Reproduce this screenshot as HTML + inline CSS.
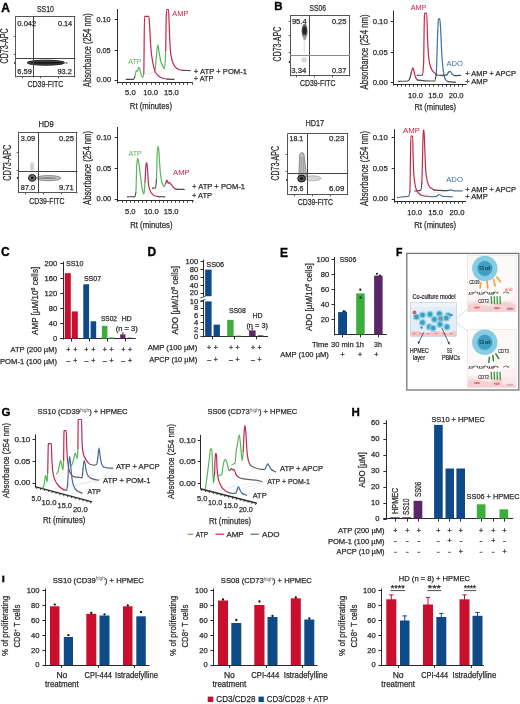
<!DOCTYPE html>
<html><head><meta charset="utf-8"><style>html,body{margin:0;padding:0;background:#fff;}svg{display:block;will-change:transform;filter:blur(0.3px);}text{font-family:"Liberation Sans",sans-serif;}</style></head><body>
<svg width="520" height="704" viewBox="0 0 520 704" font-family="Liberation Sans, sans-serif">
<defs><filter id="bl1" x="-50%" y="-50%" width="200%" height="200%"><feGaussianBlur stdDeviation="0.9"/></filter><filter id="bl2" x="-50%" y="-50%" width="200%" height="200%"><feGaussianBlur stdDeviation="1.6"/></filter><filter id="bl05" x="-50%" y="-50%" width="200%" height="200%"><feGaussianBlur stdDeviation="0.5"/></filter><filter id="bl04" x="-20%" y="-20%" width="140%" height="140%"><feGaussianBlur stdDeviation="0.4"/></filter></defs>
<rect width="520" height="704" fill="#fff"/>
<text x="1.2" y="11.6" font-size="12" font-weight="bold" fill="#000" stroke="#000" stroke-width="0.35">A</text>
<g filter="url(#bl04)">
<ellipse cx="45.9" cy="62.7" rx="18.8" ry="2.5" fill="#4a4a4a" stroke="#1a1a1a" stroke-width="1"/>
<ellipse cx="46.5" cy="62.7" rx="16" ry="1.0" fill="#151515"/>
<ellipse cx="66.5" cy="63" rx="1.2" ry="0.9" fill="#888"/>
</g>
<circle cx="15" cy="63" r="0.9" fill="#111"/>
<line x1="15.50" y1="16.20" x2="15.50" y2="77.40" stroke="#555" stroke-width="1"/>
<line x1="74.50" y1="16.20" x2="74.50" y2="77.40" stroke="#555" stroke-width="1"/>
<line x1="15.60" y1="16.50" x2="75.30" y2="16.50" stroke="#555" stroke-width="1"/>
<line x1="15.60" y1="76.50" x2="75.30" y2="76.50" stroke="#555" stroke-width="1"/>
<line x1="33.50" y1="16.20" x2="33.50" y2="77.40" stroke="#444" stroke-width="1"/>
<line x1="15.60" y1="58.50" x2="75.30" y2="58.50" stroke="#444" stroke-width="1"/>
<line x1="13.70" y1="36.50" x2="15.50" y2="36.50" stroke="#555" stroke-width="1"/>
<line x1="13.70" y1="54.50" x2="15.50" y2="54.50" stroke="#555" stroke-width="1"/>
<line x1="22.50" y1="76.50" x2="22.50" y2="78.30" stroke="#555" stroke-width="1"/>
<line x1="40.50" y1="76.50" x2="40.50" y2="78.30" stroke="#555" stroke-width="1"/>
<line x1="58.50" y1="76.50" x2="58.50" y2="78.30" stroke="#555" stroke-width="1"/>
<text x="17.3" y="25.59" font-size="7.40" fill="#2b2b2b" stroke="#2b2b2b" stroke-width="0.25" font-weight="normal" textLength="19.0" lengthAdjust="spacingAndGlyphs">0.042</text>
<text x="57.9" y="25.59" font-size="7.40" fill="#2b2b2b" stroke="#2b2b2b" stroke-width="0.25" font-weight="normal" textLength="14.2" lengthAdjust="spacingAndGlyphs">0.14</text>
<text x="17.3" y="74.19" font-size="7.40" fill="#2b2b2b" stroke="#2b2b2b" stroke-width="0.25" font-weight="normal" textLength="14.6" lengthAdjust="spacingAndGlyphs">6.59</text>
<text x="57.5" y="74.19" font-size="7.40" fill="#2b2b2b" stroke="#2b2b2b" stroke-width="0.25" font-weight="normal" textLength="14.4" lengthAdjust="spacingAndGlyphs">93.2</text>
<text x="36.9" y="11.59" font-size="9.00" fill="#2b2b2b" stroke="#2b2b2b" stroke-width="0.25" font-weight="normal" textLength="17.1" lengthAdjust="spacingAndGlyphs">SS10</text>
<text x="27.5" y="86.69" font-size="9.50" fill="#2b2b2b" stroke="#2b2b2b" stroke-width="0.25" font-weight="normal" textLength="35.8" lengthAdjust="spacingAndGlyphs">CD39-FITC</text>
<text transform="translate(8.40,63.50) rotate(-90)" x="0" y="0" font-size="10.00" fill="#2b2b2b" stroke="#2b2b2b" stroke-width="0.25" textLength="35.2" lengthAdjust="spacingAndGlyphs">CD73-APC</text>
<line x1="117.50" y1="9.00" x2="117.50" y2="83.60" stroke="#2b2b2b" stroke-width="1"/>
<line x1="117.00" y1="82.50" x2="192.70" y2="82.50" stroke="#2b2b2b" stroke-width="1.2"/>
<line x1="114.70" y1="19.50" x2="117.50" y2="19.50" stroke="#2b2b2b" stroke-width="1"/>
<line x1="114.70" y1="50.50" x2="117.50" y2="50.50" stroke="#2b2b2b" stroke-width="1"/>
<line x1="114.70" y1="80.50" x2="117.50" y2="80.50" stroke="#2b2b2b" stroke-width="1"/>
<line x1="122.50" y1="82.50" x2="122.50" y2="84.70" stroke="#2b2b2b" stroke-width="0.9"/>
<line x1="126.50" y1="82.50" x2="126.50" y2="84.70" stroke="#2b2b2b" stroke-width="0.9"/>
<line x1="130.50" y1="82.50" x2="130.50" y2="84.70" stroke="#2b2b2b" stroke-width="0.9"/>
<line x1="134.50" y1="82.50" x2="134.50" y2="84.70" stroke="#2b2b2b" stroke-width="0.9"/>
<line x1="138.50" y1="82.50" x2="138.50" y2="84.70" stroke="#2b2b2b" stroke-width="0.9"/>
<line x1="142.50" y1="82.50" x2="142.50" y2="84.70" stroke="#2b2b2b" stroke-width="0.9"/>
<line x1="146.50" y1="82.50" x2="146.50" y2="84.70" stroke="#2b2b2b" stroke-width="0.9"/>
<line x1="151.50" y1="82.50" x2="151.50" y2="84.70" stroke="#2b2b2b" stroke-width="0.9"/>
<line x1="155.50" y1="82.50" x2="155.50" y2="84.70" stroke="#2b2b2b" stroke-width="0.9"/>
<line x1="159.50" y1="82.50" x2="159.50" y2="84.70" stroke="#2b2b2b" stroke-width="0.9"/>
<line x1="163.50" y1="82.50" x2="163.50" y2="84.70" stroke="#2b2b2b" stroke-width="0.9"/>
<line x1="167.50" y1="82.50" x2="167.50" y2="84.70" stroke="#2b2b2b" stroke-width="0.9"/>
<line x1="171.50" y1="82.50" x2="171.50" y2="84.70" stroke="#2b2b2b" stroke-width="0.9"/>
<line x1="175.50" y1="82.50" x2="175.50" y2="84.70" stroke="#2b2b2b" stroke-width="0.9"/>
<line x1="179.50" y1="82.50" x2="179.50" y2="84.70" stroke="#2b2b2b" stroke-width="0.9"/>
<line x1="183.50" y1="82.50" x2="183.50" y2="84.70" stroke="#2b2b2b" stroke-width="0.9"/>
<line x1="187.50" y1="82.50" x2="187.50" y2="84.70" stroke="#2b2b2b" stroke-width="0.9"/>
<line x1="192.50" y1="82.50" x2="192.50" y2="84.70" stroke="#2b2b2b" stroke-width="0.9"/>
<text x="96.4" y="21.56" font-size="7.60" fill="#2b2b2b" stroke="#2b2b2b" stroke-width="0.25" font-weight="normal" textLength="14.3" lengthAdjust="spacingAndGlyphs">0.10</text>
<text x="96.4" y="52.76" font-size="7.60" fill="#2b2b2b" stroke="#2b2b2b" stroke-width="0.25" font-weight="normal" textLength="14.3" lengthAdjust="spacingAndGlyphs">0.05</text>
<text x="96.6" y="82.36" font-size="7.60" fill="#2b2b2b" stroke="#2b2b2b" stroke-width="0.25" font-weight="normal" textLength="14.6" lengthAdjust="spacingAndGlyphs">0.00</text>
<text x="125.12" y="94.86" font-size="7.60" fill="#2b2b2b" stroke="#2b2b2b" stroke-width="0.25" font-weight="normal" textLength="10.56" lengthAdjust="spacingAndGlyphs">5.0</text>
<text x="143.30" y="94.86" font-size="7.60" fill="#2b2b2b" stroke="#2b2b2b" stroke-width="0.25" font-weight="normal" textLength="14.79" lengthAdjust="spacingAndGlyphs">10.0</text>
<text x="164.00" y="94.86" font-size="7.60" fill="#2b2b2b" stroke="#2b2b2b" stroke-width="0.25" font-weight="normal" textLength="14.79" lengthAdjust="spacingAndGlyphs">15.0</text>
<text x="129.8" y="108.74" font-size="9.50" fill="#2b2b2b" stroke="#2b2b2b" stroke-width="0.25" font-weight="normal" textLength="42.2" lengthAdjust="spacingAndGlyphs">Rt (minutes)</text>
<text transform="translate(90.50,87.20) rotate(-90)" x="0" y="0" font-size="10.00" fill="#2b2b2b" stroke="#2b2b2b" stroke-width="0.25" textLength="73.9" lengthAdjust="spacingAndGlyphs">Absorbance (254 nm)</text>
<line x1="145.00" y1="74.30" x2="170.00" y2="68.60" stroke="#efd9dd" stroke-width="0.6"/>
<path d="M155.20,69.80 C155.60,65.20 156.00,59.79 156.40,56.00 C156.87,51.58 157.33,44.80 157.80,44.80 C158.27,44.80 158.73,50.13 159.20,52.70 C159.77,55.82 160.33,59.99 160.90,61.80 C161.67,64.25 162.43,65.67 163.20,66.90 C163.63,67.60 164.07,68.60 164.50,68.60 C164.90,68.60 165.30,61.00 165.70,50.50" fill="none" stroke="#58b558" stroke-width="1.2" stroke-linejoin="round" stroke-linecap="round"/>
<path d="M165.70,50.50 C165.88,45.69 166.07,20.23 166.25,16.40 C166.43,12.57 166.62,9.50 166.80,9.50 C167.37,9.50 167.93,9.50 168.50,9.50 C168.70,9.50 168.90,17.46 169.10,22.00 C169.40,28.81 169.70,40.12 170.00,44.80 C170.27,48.96 170.53,52.05 170.80,53.90 C171.37,57.84 171.93,60.18 172.50,61.80 C173.27,63.99 174.03,65.48 174.80,66.40 C175.93,67.76 177.07,68.76 178.20,69.20 C179.70,69.78 181.20,70.19 182.70,70.30" fill="none" stroke="#c4284f" stroke-width="1.2" stroke-linejoin="round" stroke-linecap="round"/>
<path d="M182.70,70.30 C185.17,70.48 187.63,70.50 190.10,70.60" fill="none" stroke="#4a4a4a" stroke-width="1.2" stroke-linejoin="round" stroke-linecap="round"/>
<path d="M126.25,79.40 C128.70,79.40 131.15,79.40 133.60,79.40 C134.00,79.40 134.40,77.81 134.80,76.60" fill="none" stroke="#4a4a4a" stroke-width="1.2" stroke-linejoin="round" stroke-linecap="round"/>
<path d="M134.80,76.60 C135.20,75.39 135.60,72.25 136.00,71.50 C136.27,71.00 136.53,70.50 136.80,70.50 C137.03,70.50 137.27,71.20 137.50,71.20 C137.92,71.20 138.33,67.30 138.75,67.30 C139.13,67.30 139.52,68.48 139.90,69.50 C140.27,70.48 140.63,73.33 141.00,74.30 C141.57,75.80 142.13,77.40 142.70,77.40 C143.07,77.40 143.43,76.07 143.80,73.20" fill="none" stroke="#58b558" stroke-width="1.2" stroke-linejoin="round" stroke-linecap="round"/>
<path d="M143.80,73.20 C144.03,71.38 144.27,16.40 144.50,16.40 C145.97,16.40 147.43,16.40 148.90,16.40 C149.17,16.40 149.43,23.43 149.70,27.70 C149.97,31.97 150.23,38.70 150.50,42.50 C150.87,47.73 151.23,52.06 151.60,55.00 C152.17,59.55 152.73,62.65 153.30,65.20 C153.93,68.05 154.57,70.82 155.20,72.00 C156.33,74.11 157.47,75.11 158.60,76.00 C159.73,76.89 160.87,77.66 162.00,78.00 C163.90,78.58 165.80,78.95 167.70,79.10" fill="none" stroke="#c4284f" stroke-width="1.2" stroke-linejoin="round" stroke-linecap="round"/>
<path d="M167.70,79.10 C169.80,79.26 171.90,79.30 174.00,79.40" fill="none" stroke="#4a4a4a" stroke-width="1.2" stroke-linejoin="round" stroke-linecap="round"/>
<text x="128.2" y="63.78" font-size="8.00" fill="#58b558" stroke="#58b558" stroke-width="0" font-weight="normal" textLength="13.4" lengthAdjust="spacingAndGlyphs">ATP</text>
<text x="172.3" y="15.98" font-size="8.00" fill="#c4284f" stroke="#c4284f" stroke-width="0" font-weight="normal" textLength="16.1" lengthAdjust="spacingAndGlyphs">AMP</text>
<text x="193.8" y="73.68" font-size="8.00" fill="#2b2b2b" stroke="#2b2b2b" stroke-width="0.25" font-weight="normal" textLength="53.2" lengthAdjust="spacingAndGlyphs">+ ATP + POM-1</text>
<text x="193.8" y="80.98" font-size="8.00" fill="#2b2b2b" stroke="#2b2b2b" stroke-width="0.25" font-weight="normal" textLength="19.7" lengthAdjust="spacingAndGlyphs">+ ATP</text>
<g filter="url(#bl04)">
<ellipse cx="32.3" cy="166.5" rx="1.8" ry="4.5" fill="#e6e6e6" stroke="#c4c4c4" stroke-width="0.5"/>
<ellipse cx="48.5" cy="178.1" rx="12.3" ry="2.6" fill="#c4c4c4" stroke="#6a6a6a" stroke-width="0.7"/>
<ellipse cx="47.5" cy="178.1" rx="9.5" ry="1.0" fill="#8a8a8a"/>
<path d="M30.5,170 L33.5,163.5 M33.5,170 L30.5,163.5" stroke="#bbb" stroke-width="0.7"/>
<ellipse cx="32.2" cy="177.9" rx="3.7" ry="3.4" fill="#777" stroke="#1e1e1e" stroke-width="1"/>
<circle cx="32.2" cy="177.9" r="1.4" fill="#111"/>
</g>
<circle cx="17.8" cy="178" r="0.9" fill="#111"/>
<line x1="18.50" y1="132.30" x2="18.50" y2="193.30" stroke="#555" stroke-width="1"/>
<line x1="76.50" y1="132.30" x2="76.50" y2="193.30" stroke="#555" stroke-width="1"/>
<line x1="18.20" y1="132.50" x2="77.50" y2="132.50" stroke="#555" stroke-width="1"/>
<line x1="18.20" y1="192.50" x2="77.50" y2="192.50" stroke="#555" stroke-width="1"/>
<line x1="38.50" y1="132.30" x2="38.50" y2="193.30" stroke="#444" stroke-width="1"/>
<line x1="18.20" y1="171.50" x2="77.50" y2="171.50" stroke="#444" stroke-width="1"/>
<line x1="16.70" y1="152.50" x2="18.50" y2="152.50" stroke="#555" stroke-width="1"/>
<line x1="16.70" y1="170.50" x2="18.50" y2="170.50" stroke="#555" stroke-width="1"/>
<line x1="25.50" y1="192.50" x2="25.50" y2="194.30" stroke="#555" stroke-width="1"/>
<line x1="43.50" y1="192.50" x2="43.50" y2="194.30" stroke="#555" stroke-width="1"/>
<line x1="61.50" y1="192.50" x2="61.50" y2="194.30" stroke="#555" stroke-width="1"/>
<text x="20.8" y="140.79" font-size="7.40" fill="#2b2b2b" stroke="#2b2b2b" stroke-width="0.25" font-weight="normal" textLength="14.3" lengthAdjust="spacingAndGlyphs">3.09</text>
<text x="59.0" y="140.79" font-size="7.40" fill="#2b2b2b" stroke="#2b2b2b" stroke-width="0.25" font-weight="normal" textLength="15.0" lengthAdjust="spacingAndGlyphs">0.25</text>
<text x="20.8" y="190.49" font-size="7.40" fill="#2b2b2b" stroke="#2b2b2b" stroke-width="0.25" font-weight="normal" textLength="14.3" lengthAdjust="spacingAndGlyphs">87.0</text>
<text x="59.0" y="190.49" font-size="7.40" fill="#2b2b2b" stroke="#2b2b2b" stroke-width="0.25" font-weight="normal" textLength="14.8" lengthAdjust="spacingAndGlyphs">9.71</text>
<text x="38.5" y="126.59" font-size="9.00" fill="#2b2b2b" stroke="#2b2b2b" stroke-width="0.25" font-weight="normal" textLength="15.3" lengthAdjust="spacingAndGlyphs">HD9</text>
<text x="29.2" y="204.14" font-size="9.50" fill="#2b2b2b" stroke="#2b2b2b" stroke-width="0.25" font-weight="normal" textLength="35.4" lengthAdjust="spacingAndGlyphs">CD39-FITC</text>
<text transform="translate(11.10,180.80) rotate(-90)" x="0" y="0" font-size="10.00" fill="#2b2b2b" stroke="#2b2b2b" stroke-width="0.25" textLength="36.2" lengthAdjust="spacingAndGlyphs">CD73-APC</text>
<line x1="117.50" y1="127.00" x2="117.50" y2="201.90" stroke="#2b2b2b" stroke-width="1"/>
<line x1="117.00" y1="200.50" x2="193.70" y2="200.50" stroke="#2b2b2b" stroke-width="1.2"/>
<line x1="114.70" y1="137.50" x2="117.50" y2="137.50" stroke="#2b2b2b" stroke-width="1"/>
<line x1="114.70" y1="168.50" x2="117.50" y2="168.50" stroke="#2b2b2b" stroke-width="1"/>
<line x1="114.70" y1="199.50" x2="117.50" y2="199.50" stroke="#2b2b2b" stroke-width="1"/>
<line x1="122.50" y1="200.50" x2="122.50" y2="202.70" stroke="#2b2b2b" stroke-width="0.9"/>
<line x1="126.50" y1="200.50" x2="126.50" y2="202.70" stroke="#2b2b2b" stroke-width="0.9"/>
<line x1="130.50" y1="200.50" x2="130.50" y2="202.70" stroke="#2b2b2b" stroke-width="0.9"/>
<line x1="134.50" y1="200.50" x2="134.50" y2="202.70" stroke="#2b2b2b" stroke-width="0.9"/>
<line x1="138.50" y1="200.50" x2="138.50" y2="202.70" stroke="#2b2b2b" stroke-width="0.9"/>
<line x1="142.50" y1="200.50" x2="142.50" y2="202.70" stroke="#2b2b2b" stroke-width="0.9"/>
<line x1="146.50" y1="200.50" x2="146.50" y2="202.70" stroke="#2b2b2b" stroke-width="0.9"/>
<line x1="151.50" y1="200.50" x2="151.50" y2="202.70" stroke="#2b2b2b" stroke-width="0.9"/>
<line x1="155.50" y1="200.50" x2="155.50" y2="202.70" stroke="#2b2b2b" stroke-width="0.9"/>
<line x1="159.50" y1="200.50" x2="159.50" y2="202.70" stroke="#2b2b2b" stroke-width="0.9"/>
<line x1="163.50" y1="200.50" x2="163.50" y2="202.70" stroke="#2b2b2b" stroke-width="0.9"/>
<line x1="167.50" y1="200.50" x2="167.50" y2="202.70" stroke="#2b2b2b" stroke-width="0.9"/>
<line x1="171.50" y1="200.50" x2="171.50" y2="202.70" stroke="#2b2b2b" stroke-width="0.9"/>
<line x1="175.50" y1="200.50" x2="175.50" y2="202.70" stroke="#2b2b2b" stroke-width="0.9"/>
<line x1="179.50" y1="200.50" x2="179.50" y2="202.70" stroke="#2b2b2b" stroke-width="0.9"/>
<line x1="183.50" y1="200.50" x2="183.50" y2="202.70" stroke="#2b2b2b" stroke-width="0.9"/>
<line x1="187.50" y1="200.50" x2="187.50" y2="202.70" stroke="#2b2b2b" stroke-width="0.9"/>
<line x1="192.50" y1="200.50" x2="192.50" y2="202.70" stroke="#2b2b2b" stroke-width="0.9"/>
<text x="96.6" y="139.96" font-size="7.60" fill="#2b2b2b" stroke="#2b2b2b" stroke-width="0.25" font-weight="normal" textLength="14.7" lengthAdjust="spacingAndGlyphs">0.10</text>
<text x="96.6" y="170.96" font-size="7.60" fill="#2b2b2b" stroke="#2b2b2b" stroke-width="0.25" font-weight="normal" textLength="14.7" lengthAdjust="spacingAndGlyphs">0.05</text>
<text x="96.6" y="201.36" font-size="7.60" fill="#2b2b2b" stroke="#2b2b2b" stroke-width="0.25" font-weight="normal" textLength="14.7" lengthAdjust="spacingAndGlyphs">0.00</text>
<text x="124.92" y="214.36" font-size="7.60" fill="#2b2b2b" stroke="#2b2b2b" stroke-width="0.25" font-weight="normal" textLength="10.56" lengthAdjust="spacingAndGlyphs">5.0</text>
<text x="143.90" y="214.36" font-size="7.60" fill="#2b2b2b" stroke="#2b2b2b" stroke-width="0.25" font-weight="normal" textLength="14.79" lengthAdjust="spacingAndGlyphs">10.0</text>
<text x="163.80" y="214.36" font-size="7.60" fill="#2b2b2b" stroke="#2b2b2b" stroke-width="0.25" font-weight="normal" textLength="14.79" lengthAdjust="spacingAndGlyphs">15.0</text>
<text x="130.2" y="227.54" font-size="9.50" fill="#2b2b2b" stroke="#2b2b2b" stroke-width="0.25" font-weight="normal" textLength="42.3" lengthAdjust="spacingAndGlyphs">Rt (minutes)</text>
<text transform="translate(90.70,205.00) rotate(-90)" x="0" y="0" font-size="10.00" fill="#2b2b2b" stroke="#2b2b2b" stroke-width="0.25" textLength="74.1" lengthAdjust="spacingAndGlyphs">Absorbance (254 nm)</text>
<line x1="146.00" y1="194.50" x2="176.00" y2="189.00" stroke="#efd9dd" stroke-width="0.6"/>
<path d="M152.30,188.20 C153.37,188.13 154.43,188.16 155.50,188.00 C155.83,187.95 156.17,183.85 156.50,178.80" fill="none" stroke="#4a4a4a" stroke-width="1.2" stroke-linejoin="round" stroke-linecap="round"/>
<path d="M156.50,178.80 C156.73,175.27 156.97,157.90 157.20,153.90 C157.42,150.19 157.63,146.50 157.85,146.50 C158.17,146.50 158.48,148.22 158.80,150.20 C159.10,152.07 159.40,159.90 159.70,164.00 C160.00,168.10 160.30,172.81 160.60,175.10 C161.07,178.66 161.53,181.01 162.00,182.50 C162.47,183.99 162.93,185.07 163.40,185.70 C163.70,186.11 164.00,186.60 164.30,186.60 C164.77,186.60 165.23,184.55 165.70,183.40" fill="none" stroke="#58b558" stroke-width="1.2" stroke-linejoin="round" stroke-linecap="round"/>
<path d="M165.70,183.40 C166.10,182.41 166.50,180.20 166.90,180.20 C167.37,180.20 167.83,183.20 168.30,183.20 C168.67,183.20 169.03,182.40 169.40,182.40 C169.70,182.40 170.00,183.23 170.30,183.60 C170.93,184.37 171.57,184.95 172.20,185.70 C172.80,186.41 173.40,187.52 174.00,188.00 C174.63,188.51 175.27,189.05 175.90,189.10" fill="none" stroke="#c4284f" stroke-width="1.2" stroke-linejoin="round" stroke-linecap="round"/>
<path d="M175.90,189.10 C178.67,189.33 181.43,189.30 184.20,189.40" fill="none" stroke="#4a4a4a" stroke-width="1.2" stroke-linejoin="round" stroke-linecap="round"/>
<path d="M127.40,196.80 C129.87,196.73 132.33,196.78 134.80,196.60 C135.17,196.57 135.53,194.76 135.90,192.00" fill="none" stroke="#4a4a4a" stroke-width="1.2" stroke-linejoin="round" stroke-linecap="round"/>
<path d="M135.90,192.00 C136.20,189.74 136.50,168.74 136.80,164.80 C137.07,161.30 137.33,158.00 137.60,158.00 C137.98,158.00 138.37,160.55 138.75,162.50 C139.33,165.46 139.92,171.59 140.50,176.00 C141.07,180.28 141.63,185.98 142.20,188.60 C142.77,191.22 143.33,194.30 143.90,194.30 C144.27,194.30 144.63,186.67 145.00,181.80" fill="none" stroke="#58b558" stroke-width="1.2" stroke-linejoin="round" stroke-linecap="round"/>
<path d="M145.00,181.80 C145.37,176.93 145.73,165.67 146.10,164.20 C146.33,163.27 146.57,162.50 146.80,162.50 C147.07,162.50 147.33,167.35 147.60,170.50 C147.93,174.44 148.27,183.29 148.60,185.20 C149.30,189.22 150.00,190.86 150.70,192.00 C151.83,193.85 152.97,195.04 154.10,195.50 C155.60,196.11 157.10,196.51 158.60,196.60" fill="none" stroke="#c4284f" stroke-width="1.2" stroke-linejoin="round" stroke-linecap="round"/>
<path d="M158.60,196.60 C160.67,196.72 162.73,196.73 164.80,196.80" fill="none" stroke="#4a4a4a" stroke-width="1.2" stroke-linejoin="round" stroke-linecap="round"/>
<text x="128.5" y="155.68" font-size="8.00" fill="#58b558" stroke="#58b558" stroke-width="0" font-weight="normal" textLength="13.3" lengthAdjust="spacingAndGlyphs">ATP</text>
<text x="173.1" y="174.98" font-size="8.00" fill="#c4284f" stroke="#c4284f" stroke-width="0" font-weight="normal" textLength="16.4" lengthAdjust="spacingAndGlyphs">AMP</text>
<text x="192.0" y="189.48" font-size="8.00" fill="#2b2b2b" stroke="#2b2b2b" stroke-width="0.25" font-weight="normal" textLength="53.0" lengthAdjust="spacingAndGlyphs">+ ATP + POM-1</text>
<text x="192.0" y="198.48" font-size="8.00" fill="#2b2b2b" stroke="#2b2b2b" stroke-width="0.25" font-weight="normal" textLength="20.0" lengthAdjust="spacingAndGlyphs">+ ATP</text>
<text x="274.3" y="9.8" font-size="11.5" font-weight="bold" fill="#000" stroke="#000" stroke-width="0.35">B</text>
<g filter="url(#bl04)">
<ellipse cx="304.4" cy="46" rx="1.0" ry="8" fill="#e8e8e8"/>
<ellipse cx="304.6" cy="31" rx="3.0" ry="7.3" fill="#6a6a6a"/>
<ellipse cx="304.6" cy="30.5" rx="2.1" ry="4.0" fill="#262626"/>
<ellipse cx="304.6" cy="37.5" rx="1.6" ry="2.5" fill="#999"/>
<circle cx="304.1" cy="59.7" r="2.3" fill="#dcdcdc" stroke="#c2c2c2" stroke-width="0.6"/>
</g>
<circle cx="289.6" cy="62" r="0.9" fill="#111"/>
<line x1="290.50" y1="15.20" x2="290.50" y2="76.30" stroke="#555" stroke-width="1"/>
<line x1="349.50" y1="15.20" x2="349.50" y2="76.30" stroke="#555" stroke-width="1"/>
<line x1="290.20" y1="15.50" x2="350.20" y2="15.50" stroke="#555" stroke-width="1"/>
<line x1="290.20" y1="75.50" x2="350.20" y2="75.50" stroke="#555" stroke-width="1"/>
<line x1="309.50" y1="15.20" x2="309.50" y2="76.30" stroke="#444" stroke-width="1"/>
<line x1="290.20" y1="55.50" x2="350.20" y2="55.50" stroke="#8a8a8a" stroke-width="1"/>
<line x1="288.70" y1="21.50" x2="290.50" y2="21.50" stroke="#555" stroke-width="1"/>
<line x1="288.70" y1="35.50" x2="290.50" y2="35.50" stroke="#555" stroke-width="1"/>
<line x1="288.70" y1="52.50" x2="290.50" y2="52.50" stroke="#555" stroke-width="1"/>
<line x1="296.50" y1="75.50" x2="296.50" y2="77.30" stroke="#555" stroke-width="1"/>
<line x1="314.50" y1="75.50" x2="314.50" y2="77.30" stroke="#555" stroke-width="1"/>
<line x1="332.50" y1="75.50" x2="332.50" y2="77.30" stroke="#555" stroke-width="1"/>
<text x="291.9" y="23.89" font-size="7.40" fill="#2b2b2b" stroke="#2b2b2b" stroke-width="0.25" font-weight="normal" textLength="14.8" lengthAdjust="spacingAndGlyphs">95.4</text>
<text x="332.0" y="24.39" font-size="7.40" fill="#2b2b2b" stroke="#2b2b2b" stroke-width="0.25" font-weight="normal" textLength="14.3" lengthAdjust="spacingAndGlyphs">0.25</text>
<text x="291.3" y="72.89" font-size="7.40" fill="#2b2b2b" stroke="#2b2b2b" stroke-width="0.25" font-weight="normal" textLength="15.0" lengthAdjust="spacingAndGlyphs">3.34</text>
<text x="332.0" y="73.29" font-size="7.40" fill="#2b2b2b" stroke="#2b2b2b" stroke-width="0.25" font-weight="normal" textLength="14.3" lengthAdjust="spacingAndGlyphs">0.37</text>
<text x="309.5" y="11.49" font-size="9.00" fill="#2b2b2b" stroke="#2b2b2b" stroke-width="0.25" font-weight="normal" textLength="16.5" lengthAdjust="spacingAndGlyphs">SS06</text>
<text x="300.0" y="85.94" font-size="9.50" fill="#2b2b2b" stroke="#2b2b2b" stroke-width="0.25" font-weight="normal" textLength="35.4" lengthAdjust="spacingAndGlyphs">CD39-FITC</text>
<text transform="translate(281.00,61.40) rotate(-90)" x="0" y="0" font-size="10.00" fill="#2b2b2b" stroke="#2b2b2b" stroke-width="0.25" textLength="34.6" lengthAdjust="spacingAndGlyphs">CD73-APC</text>
<line x1="393.50" y1="10.60" x2="393.50" y2="85.50" stroke="#2b2b2b" stroke-width="1"/>
<line x1="393.00" y1="84.50" x2="466.50" y2="84.50" stroke="#2b2b2b" stroke-width="1.2"/>
<line x1="390.70" y1="21.50" x2="393.50" y2="21.50" stroke="#2b2b2b" stroke-width="1"/>
<line x1="390.70" y1="52.50" x2="393.50" y2="52.50" stroke="#2b2b2b" stroke-width="1"/>
<line x1="390.70" y1="82.50" x2="393.50" y2="82.50" stroke="#2b2b2b" stroke-width="1"/>
<line x1="397.50" y1="84.50" x2="397.50" y2="86.70" stroke="#2b2b2b" stroke-width="0.9"/>
<line x1="401.50" y1="84.50" x2="401.50" y2="86.70" stroke="#2b2b2b" stroke-width="0.9"/>
<line x1="405.50" y1="84.50" x2="405.50" y2="86.70" stroke="#2b2b2b" stroke-width="0.9"/>
<line x1="409.50" y1="84.50" x2="409.50" y2="86.70" stroke="#2b2b2b" stroke-width="0.9"/>
<line x1="413.50" y1="84.50" x2="413.50" y2="86.70" stroke="#2b2b2b" stroke-width="0.9"/>
<line x1="417.50" y1="84.50" x2="417.50" y2="86.70" stroke="#2b2b2b" stroke-width="0.9"/>
<line x1="421.50" y1="84.50" x2="421.50" y2="86.70" stroke="#2b2b2b" stroke-width="0.9"/>
<line x1="425.50" y1="84.50" x2="425.50" y2="86.70" stroke="#2b2b2b" stroke-width="0.9"/>
<line x1="429.50" y1="84.50" x2="429.50" y2="86.70" stroke="#2b2b2b" stroke-width="0.9"/>
<line x1="433.50" y1="84.50" x2="433.50" y2="86.70" stroke="#2b2b2b" stroke-width="0.9"/>
<line x1="438.50" y1="84.50" x2="438.50" y2="86.70" stroke="#2b2b2b" stroke-width="0.9"/>
<line x1="442.50" y1="84.50" x2="442.50" y2="86.70" stroke="#2b2b2b" stroke-width="0.9"/>
<line x1="446.50" y1="84.50" x2="446.50" y2="86.70" stroke="#2b2b2b" stroke-width="0.9"/>
<line x1="450.50" y1="84.50" x2="450.50" y2="86.70" stroke="#2b2b2b" stroke-width="0.9"/>
<line x1="454.50" y1="84.50" x2="454.50" y2="86.70" stroke="#2b2b2b" stroke-width="0.9"/>
<line x1="458.50" y1="84.50" x2="458.50" y2="86.70" stroke="#2b2b2b" stroke-width="0.9"/>
<line x1="462.50" y1="84.50" x2="462.50" y2="86.70" stroke="#2b2b2b" stroke-width="0.9"/>
<text x="372.7" y="23.56" font-size="7.60" fill="#2b2b2b" stroke="#2b2b2b" stroke-width="0.25" font-weight="normal" textLength="15.0" lengthAdjust="spacingAndGlyphs">0.10</text>
<text x="372.7" y="54.66" font-size="7.60" fill="#2b2b2b" stroke="#2b2b2b" stroke-width="0.25" font-weight="normal" textLength="15.0" lengthAdjust="spacingAndGlyphs">0.05</text>
<text x="372.7" y="84.66" font-size="7.60" fill="#2b2b2b" stroke="#2b2b2b" stroke-width="0.25" font-weight="normal" textLength="15.0" lengthAdjust="spacingAndGlyphs">0.00</text>
<text x="408.10" y="97.76" font-size="7.60" fill="#2b2b2b" stroke="#2b2b2b" stroke-width="0.25" font-weight="normal" textLength="14.79" lengthAdjust="spacingAndGlyphs">10.0</text>
<text x="428.30" y="97.76" font-size="7.60" fill="#2b2b2b" stroke="#2b2b2b" stroke-width="0.25" font-weight="normal" textLength="14.79" lengthAdjust="spacingAndGlyphs">15.0</text>
<text x="448.70" y="97.76" font-size="7.60" fill="#2b2b2b" stroke="#2b2b2b" stroke-width="0.25" font-weight="normal" textLength="14.79" lengthAdjust="spacingAndGlyphs">20.0</text>
<text x="414.6" y="109.74" font-size="9.50" fill="#2b2b2b" stroke="#2b2b2b" stroke-width="0.25" font-weight="normal" textLength="41.5" lengthAdjust="spacingAndGlyphs">Rt (minutes)</text>
<text transform="translate(367.50,89.40) rotate(-90)" x="0" y="0" font-size="10.00" fill="#2b2b2b" stroke="#2b2b2b" stroke-width="0.25" textLength="75.0" lengthAdjust="spacingAndGlyphs">Absorbance (254 nm)</text>
<line x1="418.00" y1="80.50" x2="450.00" y2="75.50" stroke="#e4e6ee" stroke-width="0.6"/>
<path d="M417.10,75.30 C418.93,75.20 420.77,75.26 422.60,75.00" fill="none" stroke="#4a4a4a" stroke-width="1.2" stroke-linejoin="round" stroke-linecap="round"/>
<path d="M422.60,75.00 C422.93,74.95 423.27,69.96 423.60,63.30 C423.87,57.97 424.13,21.41 424.40,16.70 C424.50,14.93 424.60,13.20 424.70,13.20 C425.37,13.20 426.03,13.20 426.70,13.20 C427.00,13.20 427.30,33.79 427.60,40.00 C428.00,48.28 428.40,55.57 428.80,58.60 C429.37,62.90 429.93,65.21 430.50,66.80 C431.30,69.05 432.10,70.46 432.90,71.40 C433.60,72.22 434.30,72.55 435.00,73.20 C435.60,73.75 436.20,74.92 436.80,75.00" fill="none" stroke="#c4284f" stroke-width="1.2" stroke-linejoin="round" stroke-linecap="round"/>
<path d="M436.80,75.00 C438.33,75.22 439.87,75.30 441.40,75.30 C443.27,75.30 445.13,75.18 447.00,74.80 C447.58,74.68 448.17,72.23 448.75,71.90" fill="none" stroke="#4a4a4a" stroke-width="1.2" stroke-linejoin="round" stroke-linecap="round"/>
<path d="M448.75,71.90 C449.23,71.63 449.72,71.40 450.20,71.40 C450.87,71.40 451.53,73.67 452.20,74.20 C453.13,74.94 454.07,75.70 455.00,75.70" fill="none" stroke="#3f6fa3" stroke-width="1.2" stroke-linejoin="round" stroke-linecap="round"/>
<path d="M455.00,75.70 C456.90,75.70 458.80,75.43 460.70,75.30" fill="none" stroke="#4a4a4a" stroke-width="1.2" stroke-linejoin="round" stroke-linecap="round"/>
<path d="M398.30,81.30 C401.47,81.20 404.63,81.25 407.80,81.00 C408.40,80.95 409.00,80.03 409.60,79.00 C410.17,78.02 410.73,74.53 411.30,72.60" fill="none" stroke="#4a4a4a" stroke-width="1.2" stroke-linejoin="round" stroke-linecap="round"/>
<path d="M411.30,72.60 C411.80,70.89 412.30,67.90 412.80,67.90 C413.27,67.90 413.73,70.45 414.20,72.00 C414.70,73.66 415.20,76.86 415.70,77.80 C416.37,79.05 417.03,80.08 417.70,80.20" fill="none" stroke="#c4284f" stroke-width="1.2" stroke-linejoin="round" stroke-linecap="round"/>
<path d="M417.70,80.20 C420.23,80.65 422.77,80.71 425.30,80.80 C428.37,80.91 431.43,81.00 434.50,81.00 C435.08,81.00 435.67,77.99 436.25,73.60" fill="none" stroke="#4a4a4a" stroke-width="1.2" stroke-linejoin="round" stroke-linecap="round"/>
<path d="M436.25,73.60 C436.73,69.96 437.22,42.71 437.70,32.70 C437.97,27.17 438.23,19.38 438.50,19.10 C438.90,18.69 439.30,18.50 439.70,18.50 C439.97,18.50 440.23,23.38 440.50,27.00 C440.97,33.33 441.43,48.97 441.90,55.50 C442.40,62.50 442.90,68.36 443.40,71.40 C444.03,75.25 444.67,78.41 445.30,79.30 C446.27,80.65 447.23,81.44 448.20,81.60" fill="none" stroke="#3f6fa3" stroke-width="1.2" stroke-linejoin="round" stroke-linecap="round"/>
<path d="M448.20,81.60 C450.67,82.01 453.13,82.00 455.60,82.20" fill="none" stroke="#4a4a4a" stroke-width="1.2" stroke-linejoin="round" stroke-linecap="round"/>
<text x="410.7" y="10.08" font-size="8.00" fill="#c4284f" stroke="#c4284f" stroke-width="0" font-weight="normal" textLength="15.8" lengthAdjust="spacingAndGlyphs">AMP</text>
<text x="446.5" y="65.88" font-size="8.00" fill="#3f6fa3" stroke="#3f6fa3" stroke-width="0" font-weight="normal" textLength="16.5" lengthAdjust="spacingAndGlyphs">ADO</text>
<text x="465.2" y="76.48" font-size="8.00" fill="#2b2b2b" stroke="#2b2b2b" stroke-width="0.25" font-weight="normal" textLength="50.8" lengthAdjust="spacingAndGlyphs">+ AMP + APCP</text>
<text x="465.2" y="84.18" font-size="8.00" fill="#2b2b2b" stroke="#2b2b2b" stroke-width="0.25" font-weight="normal" textLength="22.5" lengthAdjust="spacingAndGlyphs">+ AMP</text>
<g filter="url(#bl04)">
<path d="M298.8,177 L299.6,155 Q301.5,150.5 304,154 L306.6,177 Z" fill="#bdbdbd" stroke="#707070" stroke-width="0.7"/>
<path d="M300.8,176 L301.3,157 M303.4,176 L303.3,157" stroke="#888" stroke-width="0.6"/>
<ellipse cx="313" cy="178.3" rx="8" ry="2.5" fill="#d6d6d6" stroke="#999" stroke-width="0.6"/>
<ellipse cx="301.6" cy="178.6" rx="3.9" ry="3.5" fill="#555" stroke="#1a1a1a" stroke-width="1"/>
<circle cx="301.6" cy="178.6" r="1.4" fill="#111"/>
</g>
<circle cx="287.0" cy="179.9" r="1" fill="#111"/>
<line x1="287.50" y1="133.50" x2="287.50" y2="195.00" stroke="#555" stroke-width="1"/>
<line x1="347.50" y1="133.50" x2="347.50" y2="195.00" stroke="#555" stroke-width="1"/>
<line x1="287.70" y1="133.50" x2="348.10" y2="133.50" stroke="#555" stroke-width="1"/>
<line x1="287.70" y1="194.50" x2="348.10" y2="194.50" stroke="#555" stroke-width="1"/>
<line x1="307.50" y1="133.50" x2="307.50" y2="195.00" stroke="#444" stroke-width="1"/>
<line x1="287.70" y1="173.50" x2="348.10" y2="173.50" stroke="#444" stroke-width="1"/>
<line x1="285.70" y1="154.50" x2="287.50" y2="154.50" stroke="#555" stroke-width="1"/>
<line x1="285.70" y1="171.50" x2="287.50" y2="171.50" stroke="#555" stroke-width="1"/>
<line x1="294.50" y1="194.50" x2="294.50" y2="196.30" stroke="#555" stroke-width="1"/>
<line x1="312.50" y1="194.50" x2="312.50" y2="196.30" stroke="#555" stroke-width="1"/>
<line x1="330.50" y1="194.50" x2="330.50" y2="196.30" stroke="#555" stroke-width="1"/>
<text x="289.6" y="140.59" font-size="7.40" fill="#2b2b2b" stroke="#2b2b2b" stroke-width="0.25" font-weight="normal" textLength="13.4" lengthAdjust="spacingAndGlyphs">18.1</text>
<text x="329.0" y="140.59" font-size="7.40" fill="#2b2b2b" stroke="#2b2b2b" stroke-width="0.25" font-weight="normal" textLength="15.4" lengthAdjust="spacingAndGlyphs">0.23</text>
<text x="289.6" y="191.49" font-size="7.40" fill="#2b2b2b" stroke="#2b2b2b" stroke-width="0.25" font-weight="normal" textLength="13.9" lengthAdjust="spacingAndGlyphs">75.6</text>
<text x="329.0" y="191.49" font-size="7.40" fill="#2b2b2b" stroke="#2b2b2b" stroke-width="0.25" font-weight="normal" textLength="15.4" lengthAdjust="spacingAndGlyphs">6.09</text>
<text x="305.4" y="126.29" font-size="9.00" fill="#2b2b2b" stroke="#2b2b2b" stroke-width="0.25" font-weight="normal" textLength="18.8" lengthAdjust="spacingAndGlyphs">HD17</text>
<text x="297.7" y="204.64" font-size="9.50" fill="#2b2b2b" stroke="#2b2b2b" stroke-width="0.25" font-weight="normal" textLength="35.2" lengthAdjust="spacingAndGlyphs">CD39-FITC</text>
<text transform="translate(278.60,180.60) rotate(-90)" x="0" y="0" font-size="10.00" fill="#2b2b2b" stroke="#2b2b2b" stroke-width="0.25" textLength="34.6" lengthAdjust="spacingAndGlyphs">CD73-APC</text>
<line x1="394.50" y1="129.20" x2="394.50" y2="202.80" stroke="#2b2b2b" stroke-width="1"/>
<line x1="394.00" y1="201.50" x2="466.00" y2="201.50" stroke="#2b2b2b" stroke-width="1.2"/>
<line x1="391.70" y1="137.50" x2="394.50" y2="137.50" stroke="#2b2b2b" stroke-width="1"/>
<line x1="391.70" y1="168.50" x2="394.50" y2="168.50" stroke="#2b2b2b" stroke-width="1"/>
<line x1="391.70" y1="199.50" x2="394.50" y2="199.50" stroke="#2b2b2b" stroke-width="1"/>
<line x1="397.50" y1="201.50" x2="397.50" y2="203.70" stroke="#2b2b2b" stroke-width="0.9"/>
<line x1="401.50" y1="201.50" x2="401.50" y2="203.70" stroke="#2b2b2b" stroke-width="0.9"/>
<line x1="405.50" y1="201.50" x2="405.50" y2="203.70" stroke="#2b2b2b" stroke-width="0.9"/>
<line x1="409.50" y1="201.50" x2="409.50" y2="203.70" stroke="#2b2b2b" stroke-width="0.9"/>
<line x1="413.50" y1="201.50" x2="413.50" y2="203.70" stroke="#2b2b2b" stroke-width="0.9"/>
<line x1="417.50" y1="201.50" x2="417.50" y2="203.70" stroke="#2b2b2b" stroke-width="0.9"/>
<line x1="421.50" y1="201.50" x2="421.50" y2="203.70" stroke="#2b2b2b" stroke-width="0.9"/>
<line x1="425.50" y1="201.50" x2="425.50" y2="203.70" stroke="#2b2b2b" stroke-width="0.9"/>
<line x1="429.50" y1="201.50" x2="429.50" y2="203.70" stroke="#2b2b2b" stroke-width="0.9"/>
<line x1="433.50" y1="201.50" x2="433.50" y2="203.70" stroke="#2b2b2b" stroke-width="0.9"/>
<line x1="438.50" y1="201.50" x2="438.50" y2="203.70" stroke="#2b2b2b" stroke-width="0.9"/>
<line x1="442.50" y1="201.50" x2="442.50" y2="203.70" stroke="#2b2b2b" stroke-width="0.9"/>
<line x1="446.50" y1="201.50" x2="446.50" y2="203.70" stroke="#2b2b2b" stroke-width="0.9"/>
<line x1="450.50" y1="201.50" x2="450.50" y2="203.70" stroke="#2b2b2b" stroke-width="0.9"/>
<line x1="454.50" y1="201.50" x2="454.50" y2="203.70" stroke="#2b2b2b" stroke-width="0.9"/>
<line x1="458.50" y1="201.50" x2="458.50" y2="203.70" stroke="#2b2b2b" stroke-width="0.9"/>
<line x1="462.50" y1="201.50" x2="462.50" y2="203.70" stroke="#2b2b2b" stroke-width="0.9"/>
<text x="372.7" y="140.26" font-size="7.60" fill="#2b2b2b" stroke="#2b2b2b" stroke-width="0.25" font-weight="normal" textLength="15.0" lengthAdjust="spacingAndGlyphs">0.10</text>
<text x="372.7" y="171.06" font-size="7.60" fill="#2b2b2b" stroke="#2b2b2b" stroke-width="0.25" font-weight="normal" textLength="15.0" lengthAdjust="spacingAndGlyphs">0.05</text>
<text x="372.7" y="201.16" font-size="7.60" fill="#2b2b2b" stroke="#2b2b2b" stroke-width="0.25" font-weight="normal" textLength="15.0" lengthAdjust="spacingAndGlyphs">0.00</text>
<text x="407.20" y="214.66" font-size="7.60" fill="#2b2b2b" stroke="#2b2b2b" stroke-width="0.25" font-weight="normal" textLength="14.79" lengthAdjust="spacingAndGlyphs">10.0</text>
<text x="428.30" y="214.66" font-size="7.60" fill="#2b2b2b" stroke="#2b2b2b" stroke-width="0.25" font-weight="normal" textLength="14.79" lengthAdjust="spacingAndGlyphs">15.0</text>
<text x="449.60" y="214.66" font-size="7.60" fill="#2b2b2b" stroke="#2b2b2b" stroke-width="0.25" font-weight="normal" textLength="14.79" lengthAdjust="spacingAndGlyphs">20.0</text>
<text x="414.3" y="227.75" font-size="9.50" fill="#2b2b2b" stroke="#2b2b2b" stroke-width="0.25" font-weight="normal" textLength="41.8" lengthAdjust="spacingAndGlyphs">Rt (minutes)</text>
<text transform="translate(367.50,206.00) rotate(-90)" x="0" y="0" font-size="10.00" fill="#2b2b2b" stroke="#2b2b2b" stroke-width="0.25" textLength="75.0" lengthAdjust="spacingAndGlyphs">Absorbance (254 nm)</text>
<line x1="418.00" y1="195.50" x2="450.00" y2="190.50" stroke="#efd9dd" stroke-width="0.6"/>
<path d="M414.70,191.00 C416.70,190.80 418.70,190.91 420.70,190.40 C421.07,190.31 421.43,187.38 421.80,183.20" fill="none" stroke="#4a4a4a" stroke-width="1.2" stroke-linejoin="round" stroke-linecap="round"/>
<path d="M421.80,183.20 C422.10,179.78 422.40,160.21 422.70,149.80 C422.90,142.86 423.10,130.10 423.30,130.10 C423.53,130.10 423.77,130.10 424.00,130.10 C424.27,130.10 424.53,143.66 424.80,149.80 C425.13,157.47 425.47,167.73 425.80,171.30 C426.27,176.30 426.73,179.14 427.20,180.90 C428.00,183.92 428.80,185.88 429.60,186.80 C430.60,187.95 431.60,188.34 432.60,189.00 C433.27,189.44 433.93,190.14 434.60,190.20" fill="none" stroke="#c4284f" stroke-width="1.2" stroke-linejoin="round" stroke-linecap="round"/>
<path d="M434.60,190.20 C438.20,190.51 441.80,190.60 445.40,190.60 C446.43,190.60 447.47,190.50 448.50,190.40" fill="none" stroke="#4a4a4a" stroke-width="1.2" stroke-linejoin="round" stroke-linecap="round"/>
<path d="M448.50,190.40 C449.40,190.31 450.30,189.80 451.20,189.80 C451.80,189.80 452.40,190.56 453.00,190.60" fill="none" stroke="#3f6fa3" stroke-width="1.2" stroke-linejoin="round" stroke-linecap="round"/>
<path d="M453.00,190.60 C456.10,190.83 459.20,190.80 462.30,190.90" fill="none" stroke="#56739a" stroke-width="1.2" stroke-linejoin="round" stroke-linecap="round"/>
<path d="M397.40,197.60 C399.77,197.27 402.13,196.78 404.50,196.60 C405.70,196.51 406.90,196.55 408.10,196.40 C408.70,196.33 409.30,195.21 409.90,191.60" fill="none" stroke="#56739a" stroke-width="1.2" stroke-linejoin="round" stroke-linecap="round"/>
<path d="M409.90,191.60 C410.10,190.40 410.30,166.52 410.50,155.80 C410.63,148.65 410.77,136.10 410.90,136.10 C411.50,136.10 412.10,136.10 412.70,136.10 C412.83,136.10 412.97,151.57 413.10,155.80 C413.43,166.37 413.77,173.76 414.10,177.30 C414.57,182.26 415.03,185.06 415.50,186.80 C416.23,189.54 416.97,191.25 417.70,192.20 C418.90,193.75 420.10,194.79 421.30,195.20 C423.27,195.88 425.23,196.31 427.20,196.40" fill="none" stroke="#c4284f" stroke-width="1.2" stroke-linejoin="round" stroke-linecap="round"/>
<path d="M427.20,196.40 C429.80,196.52 432.40,196.60 435.00,196.60 C435.40,196.60 435.80,196.55 436.20,196.50" fill="none" stroke="#56739a" stroke-width="1.2" stroke-linejoin="round" stroke-linecap="round"/>
<path d="M436.20,196.50 C437.20,196.37 438.20,194.50 439.20,194.50 C440.23,194.50 441.27,195.91 442.30,196.20 C442.80,196.34 443.30,196.46 443.80,196.50" fill="none" stroke="#3f6fa3" stroke-width="1.2" stroke-linejoin="round" stroke-linecap="round"/>
<path d="M443.80,196.50 C446.63,196.70 449.47,196.70 452.30,196.80" fill="none" stroke="#56739a" stroke-width="1.2" stroke-linejoin="round" stroke-linecap="round"/>
<text x="403.1" y="133.28" font-size="8.00" fill="#c4284f" stroke="#c4284f" stroke-width="0" font-weight="normal" textLength="17.0" lengthAdjust="spacingAndGlyphs">AMP</text>
<text x="446.2" y="182.28" font-size="8.00" fill="#3f6fa3" stroke="#3f6fa3" stroke-width="0" font-weight="normal" textLength="16.8" lengthAdjust="spacingAndGlyphs">ADO</text>
<text x="465.2" y="192.48" font-size="8.00" fill="#2b2b2b" stroke="#2b2b2b" stroke-width="0.25" font-weight="normal" textLength="50.8" lengthAdjust="spacingAndGlyphs">+ AMP + APCP</text>
<text x="465.2" y="199.48" font-size="8.00" fill="#2b2b2b" stroke="#2b2b2b" stroke-width="0.25" font-weight="normal" textLength="22.5" lengthAdjust="spacingAndGlyphs">+ AMP</text>
<text x="1.0" y="256.3" font-size="12" font-weight="bold" fill="#000" stroke="#000" stroke-width="0.35">C</text>
<line x1="63.50" y1="261.50" x2="63.50" y2="339.60" stroke="#2b2b2b" stroke-width="1"/>
<line x1="60.20" y1="338.50" x2="135.80" y2="338.50" stroke="#2b2b2b" stroke-width="1.2"/>
<line x1="60.30" y1="338.50" x2="63.50" y2="338.50" stroke="#2b2b2b" stroke-width="1"/>
<text x="53.07" y="341.16" font-size="7.60" fill="#2b2b2b" stroke="#2b2b2b" stroke-width="0.25" textLength="4.23" lengthAdjust="spacingAndGlyphs">0</text>
<line x1="60.30" y1="323.50" x2="63.50" y2="323.50" stroke="#2b2b2b" stroke-width="1"/>
<text x="48.85" y="326.08" font-size="7.60" fill="#2b2b2b" stroke="#2b2b2b" stroke-width="0.25" textLength="8.45" lengthAdjust="spacingAndGlyphs">40</text>
<line x1="60.30" y1="308.50" x2="63.50" y2="308.50" stroke="#2b2b2b" stroke-width="1"/>
<text x="48.85" y="311.00" font-size="7.60" fill="#2b2b2b" stroke="#2b2b2b" stroke-width="0.25" textLength="8.45" lengthAdjust="spacingAndGlyphs">80</text>
<line x1="60.30" y1="293.50" x2="63.50" y2="293.50" stroke="#2b2b2b" stroke-width="1"/>
<text x="44.62" y="295.92" font-size="7.60" fill="#2b2b2b" stroke="#2b2b2b" stroke-width="0.25" textLength="12.68" lengthAdjust="spacingAndGlyphs">120</text>
<line x1="60.30" y1="278.50" x2="63.50" y2="278.50" stroke="#2b2b2b" stroke-width="1"/>
<text x="44.62" y="280.84" font-size="7.60" fill="#2b2b2b" stroke="#2b2b2b" stroke-width="0.25" textLength="12.68" lengthAdjust="spacingAndGlyphs">160</text>
<line x1="60.30" y1="263.50" x2="63.50" y2="263.50" stroke="#2b2b2b" stroke-width="1"/>
<text x="44.62" y="265.76" font-size="7.60" fill="#2b2b2b" stroke="#2b2b2b" stroke-width="0.25" textLength="12.68" lengthAdjust="spacingAndGlyphs">200</text>
<line x1="71.50" y1="338.60" x2="71.50" y2="341.60" stroke="#2b2b2b" stroke-width="1"/>
<line x1="89.50" y1="338.60" x2="89.50" y2="341.60" stroke="#2b2b2b" stroke-width="1"/>
<line x1="107.50" y1="338.60" x2="107.50" y2="341.60" stroke="#2b2b2b" stroke-width="1"/>
<line x1="125.50" y1="338.60" x2="125.50" y2="341.60" stroke="#2b2b2b" stroke-width="1"/>
<rect x="64.8" y="273.2" width="6.0" height="65.4" fill="#c8102e" />
<rect x="71.8" y="311.4" width="6.0" height="27.2" fill="#c8102e" />
<rect x="83.3" y="284.3" width="5.8" height="54.3" fill="#0e4a88" />
<rect x="90.6" y="321.3" width="5.6" height="17.3" fill="#0e4a88" />
<rect x="101.9" y="325.8" width="5.5" height="12.8" fill="#3cae3c" />
<rect x="109.0" y="337.4" width="5.0" height="1.2" fill="#3cae3c" />
<rect x="120.2" y="334.4" width="5.2" height="4.2" fill="#5a2868" />
<rect x="127.8" y="337.6" width="4.0" height="1.0" fill="#5a2868" />
<line x1="121.80" y1="332.80" x2="123.80" y2="332.80" stroke="#5a2868" stroke-width="0.8"/>
<line x1="122.80" y1="332.80" x2="122.80" y2="334.40" stroke="#5a2868" stroke-width="0.8"/>
<text x="66.0" y="266.28" font-size="8.00" fill="#2b2b2b" stroke="#2b2b2b" stroke-width="0.25" font-weight="normal" textLength="17.4" lengthAdjust="spacingAndGlyphs">SS10</text>
<text x="83.9" y="280.68" font-size="8.00" fill="#2b2b2b" stroke="#2b2b2b" stroke-width="0.25" font-weight="normal" textLength="17.3" lengthAdjust="spacingAndGlyphs">SS07</text>
<text x="101.0" y="320.78" font-size="8.00" fill="#2b2b2b" stroke="#2b2b2b" stroke-width="0.25" font-weight="normal" textLength="16.0" lengthAdjust="spacingAndGlyphs">SS02</text>
<text x="121.4" y="320.78" font-size="8.00" fill="#2b2b2b" stroke="#2b2b2b" stroke-width="0.25" font-weight="normal" textLength="10.4" lengthAdjust="spacingAndGlyphs">HD</text>
<text x="115.7" y="330.68" font-size="8.00" fill="#2b2b2b" stroke="#2b2b2b" stroke-width="0.25" font-weight="normal" textLength="22.2" lengthAdjust="spacingAndGlyphs">(n = 3)</text>
<text transform="translate(38.29,334.90) rotate(-90)" x="0" y="0" font-size="9.00" fill="#2b2b2b" stroke="#2b2b2b" stroke-width="0.25" textLength="68.1" lengthAdjust="spacingAndGlyphs">AMP [µM/10<tspan font-size="6" dy="-3">6</tspan><tspan dy="3"> cells]</tspan></text>
<text x="10.5" y="352.18" font-size="8.00" fill="#2b2b2b" stroke="#2b2b2b" stroke-width="0.25" font-weight="normal" textLength="46.5" lengthAdjust="spacingAndGlyphs">ATP (200 µM)</text>
<text x="0.0" y="363.68" font-size="8.00" fill="#2b2b2b" stroke="#2b2b2b" stroke-width="0.25" font-weight="normal" textLength="57.0" lengthAdjust="spacingAndGlyphs">POM-1 (100 µM)</text>
<text x="66.36" y="351.87" font-size="7.00" fill="#2b2b2b" stroke="#2b2b2b" stroke-width="0.25" font-weight="normal" textLength="4.09" lengthAdjust="spacingAndGlyphs">+</text>
<text x="73.16" y="351.87" font-size="7.00" fill="#2b2b2b" stroke="#2b2b2b" stroke-width="0.25" font-weight="normal" textLength="4.09" lengthAdjust="spacingAndGlyphs">+</text>
<text x="66.45" y="363.37" font-size="7.00" fill="#2b2b2b" stroke="#2b2b2b" stroke-width="0.25" font-weight="normal" textLength="3.89" lengthAdjust="spacingAndGlyphs">–</text>
<text x="73.16" y="363.37" font-size="7.00" fill="#2b2b2b" stroke="#2b2b2b" stroke-width="0.25" font-weight="normal" textLength="4.09" lengthAdjust="spacingAndGlyphs">+</text>
<text x="84.36" y="351.87" font-size="7.00" fill="#2b2b2b" stroke="#2b2b2b" stroke-width="0.25" font-weight="normal" textLength="4.09" lengthAdjust="spacingAndGlyphs">+</text>
<text x="91.16" y="351.87" font-size="7.00" fill="#2b2b2b" stroke="#2b2b2b" stroke-width="0.25" font-weight="normal" textLength="4.09" lengthAdjust="spacingAndGlyphs">+</text>
<text x="84.45" y="363.37" font-size="7.00" fill="#2b2b2b" stroke="#2b2b2b" stroke-width="0.25" font-weight="normal" textLength="3.89" lengthAdjust="spacingAndGlyphs">–</text>
<text x="91.16" y="363.37" font-size="7.00" fill="#2b2b2b" stroke="#2b2b2b" stroke-width="0.25" font-weight="normal" textLength="4.09" lengthAdjust="spacingAndGlyphs">+</text>
<text x="102.76" y="351.87" font-size="7.00" fill="#2b2b2b" stroke="#2b2b2b" stroke-width="0.25" font-weight="normal" textLength="4.09" lengthAdjust="spacingAndGlyphs">+</text>
<text x="109.56" y="351.87" font-size="7.00" fill="#2b2b2b" stroke="#2b2b2b" stroke-width="0.25" font-weight="normal" textLength="4.09" lengthAdjust="spacingAndGlyphs">+</text>
<text x="102.85" y="363.37" font-size="7.00" fill="#2b2b2b" stroke="#2b2b2b" stroke-width="0.25" font-weight="normal" textLength="3.89" lengthAdjust="spacingAndGlyphs">–</text>
<text x="109.56" y="363.37" font-size="7.00" fill="#2b2b2b" stroke="#2b2b2b" stroke-width="0.25" font-weight="normal" textLength="4.09" lengthAdjust="spacingAndGlyphs">+</text>
<text x="121.26" y="351.87" font-size="7.00" fill="#2b2b2b" stroke="#2b2b2b" stroke-width="0.25" font-weight="normal" textLength="4.09" lengthAdjust="spacingAndGlyphs">+</text>
<text x="128.06" y="351.87" font-size="7.00" fill="#2b2b2b" stroke="#2b2b2b" stroke-width="0.25" font-weight="normal" textLength="4.09" lengthAdjust="spacingAndGlyphs">+</text>
<text x="121.35" y="363.37" font-size="7.00" fill="#2b2b2b" stroke="#2b2b2b" stroke-width="0.25" font-weight="normal" textLength="3.89" lengthAdjust="spacingAndGlyphs">–</text>
<text x="128.06" y="363.37" font-size="7.00" fill="#2b2b2b" stroke="#2b2b2b" stroke-width="0.25" font-weight="normal" textLength="4.09" lengthAdjust="spacingAndGlyphs">+</text>
<text x="147.6" y="256.0" font-size="12" font-weight="bold" fill="#000" stroke="#000" stroke-width="0.35">D</text>
<line x1="203.50" y1="259.60" x2="203.50" y2="296.70" stroke="#2b2b2b" stroke-width="1"/>
<line x1="203.50" y1="300.00" x2="203.50" y2="337.30" stroke="#2b2b2b" stroke-width="1"/>
<line x1="203.00" y1="336.50" x2="268.00" y2="336.50" stroke="#2b2b2b" stroke-width="1.2"/>
<line x1="200.50" y1="261.50" x2="203.50" y2="261.50" stroke="#2b2b2b" stroke-width="1"/>
<text x="185.52" y="263.66" font-size="7.60" fill="#2b2b2b" stroke="#2b2b2b" stroke-width="0.25" textLength="12.68" lengthAdjust="spacingAndGlyphs">100</text>
<line x1="200.50" y1="269.50" x2="203.50" y2="269.50" stroke="#2b2b2b" stroke-width="1"/>
<text x="189.75" y="271.96" font-size="7.60" fill="#2b2b2b" stroke="#2b2b2b" stroke-width="0.25" textLength="8.45" lengthAdjust="spacingAndGlyphs">80</text>
<line x1="200.50" y1="277.50" x2="203.50" y2="277.50" stroke="#2b2b2b" stroke-width="1"/>
<text x="189.75" y="279.66" font-size="7.60" fill="#2b2b2b" stroke="#2b2b2b" stroke-width="0.25" textLength="8.45" lengthAdjust="spacingAndGlyphs">60</text>
<line x1="200.50" y1="285.50" x2="203.50" y2="285.50" stroke="#2b2b2b" stroke-width="1"/>
<text x="189.75" y="287.76" font-size="7.60" fill="#2b2b2b" stroke="#2b2b2b" stroke-width="0.25" textLength="8.45" lengthAdjust="spacingAndGlyphs">40</text>
<line x1="200.50" y1="293.50" x2="203.50" y2="293.50" stroke="#2b2b2b" stroke-width="1"/>
<text x="189.75" y="295.36" font-size="7.60" fill="#2b2b2b" stroke="#2b2b2b" stroke-width="0.25" textLength="8.45" lengthAdjust="spacingAndGlyphs">20</text>
<line x1="200.50" y1="301.50" x2="203.50" y2="301.50" stroke="#2b2b2b" stroke-width="1"/>
<text x="189.75" y="303.56" font-size="7.60" fill="#2b2b2b" stroke="#2b2b2b" stroke-width="0.25" textLength="8.45" lengthAdjust="spacingAndGlyphs">10</text>
<line x1="200.50" y1="308.50" x2="203.50" y2="308.50" stroke="#2b2b2b" stroke-width="1"/>
<text x="193.97" y="310.46" font-size="7.60" fill="#2b2b2b" stroke="#2b2b2b" stroke-width="0.25" textLength="4.23" lengthAdjust="spacingAndGlyphs">8</text>
<line x1="200.50" y1="315.50" x2="203.50" y2="315.50" stroke="#2b2b2b" stroke-width="1"/>
<text x="193.97" y="317.56" font-size="7.60" fill="#2b2b2b" stroke="#2b2b2b" stroke-width="0.25" textLength="4.23" lengthAdjust="spacingAndGlyphs">6</text>
<line x1="200.50" y1="322.50" x2="203.50" y2="322.50" stroke="#2b2b2b" stroke-width="1"/>
<text x="193.97" y="324.76" font-size="7.60" fill="#2b2b2b" stroke="#2b2b2b" stroke-width="0.25" textLength="4.23" lengthAdjust="spacingAndGlyphs">4</text>
<line x1="200.50" y1="329.50" x2="203.50" y2="329.50" stroke="#2b2b2b" stroke-width="1"/>
<text x="193.97" y="331.96" font-size="7.60" fill="#2b2b2b" stroke="#2b2b2b" stroke-width="0.25" textLength="4.23" lengthAdjust="spacingAndGlyphs">2</text>
<line x1="200.50" y1="336.50" x2="203.50" y2="336.50" stroke="#2b2b2b" stroke-width="1"/>
<text x="193.97" y="338.56" font-size="7.60" fill="#2b2b2b" stroke="#2b2b2b" stroke-width="0.25" textLength="4.23" lengthAdjust="spacingAndGlyphs">0</text>
<line x1="200.30" y1="297.90" x2="205.50" y2="296.40" stroke="#2b2b2b" stroke-width="0.8"/>
<line x1="200.30" y1="301.00" x2="205.50" y2="299.50" stroke="#2b2b2b" stroke-width="0.8"/>
<rect x="205.1" y="269.6" width="6.5" height="26.6" fill="#0e4a88" />
<rect x="205.1" y="301.4" width="6.5" height="34.9" fill="#0e4a88" />
<rect x="213.6" y="324.6" width="6.3" height="11.7" fill="#0e4a88" />
<rect x="227.2" y="319.9" width="6.4" height="16.4" fill="#3cae3c" />
<rect x="235.3" y="335.6" width="5.7" height="0.7" fill="#3cae3c" />
<rect x="249.1" y="330.4" width="6.5" height="5.9" fill="#5a2868" />
<rect x="257.9" y="335.3" width="5.4" height="1.0" fill="#5a2868" />
<line x1="251.30" y1="328.60" x2="253.30" y2="328.60" stroke="#5a2868" stroke-width="0.8"/>
<line x1="252.30" y1="328.60" x2="252.30" y2="330.40" stroke="#5a2868" stroke-width="0.8"/>
<line x1="212.50" y1="336.30" x2="212.50" y2="339.30" stroke="#2b2b2b" stroke-width="1"/>
<line x1="234.50" y1="336.30" x2="234.50" y2="339.30" stroke="#2b2b2b" stroke-width="1"/>
<line x1="256.50" y1="336.30" x2="256.50" y2="339.30" stroke="#2b2b2b" stroke-width="1"/>
<text x="206.3" y="266.68" font-size="8.00" fill="#2b2b2b" stroke="#2b2b2b" stroke-width="0.25" font-weight="normal" textLength="17.9" lengthAdjust="spacingAndGlyphs">SS06</text>
<text x="228.9" y="312.68" font-size="8.00" fill="#2b2b2b" stroke="#2b2b2b" stroke-width="0.25" font-weight="normal" textLength="16.9" lengthAdjust="spacingAndGlyphs">SS08</text>
<text x="252.5" y="318.28" font-size="8.00" fill="#2b2b2b" stroke="#2b2b2b" stroke-width="0.25" font-weight="normal" textLength="10.1" lengthAdjust="spacingAndGlyphs">HD</text>
<text x="246.4" y="327.78" font-size="8.00" fill="#2b2b2b" stroke="#2b2b2b" stroke-width="0.25" font-weight="normal" textLength="21.6" lengthAdjust="spacingAndGlyphs">(n = 3)</text>
<text transform="translate(178.09,334.40) rotate(-90)" x="0" y="0" font-size="9.00" fill="#2b2b2b" stroke="#2b2b2b" stroke-width="0.25" textLength="68.4" lengthAdjust="spacingAndGlyphs">ADO [µM/10<tspan font-size="6" dy="-3">6</tspan><tspan dy="3"> cells]</tspan></text>
<text x="147.7" y="350.38" font-size="8.00" fill="#2b2b2b" stroke="#2b2b2b" stroke-width="0.25" font-weight="normal" textLength="49.6" lengthAdjust="spacingAndGlyphs">AMP (100 µM)</text>
<text x="149.2" y="361.88" font-size="8.00" fill="#2b2b2b" stroke="#2b2b2b" stroke-width="0.25" font-weight="normal" textLength="48.1" lengthAdjust="spacingAndGlyphs">APCP (10 µM)</text>
<text x="207.06" y="350.07" font-size="7.00" fill="#2b2b2b" stroke="#2b2b2b" stroke-width="0.25" font-weight="normal" textLength="4.09" lengthAdjust="spacingAndGlyphs">+</text>
<text x="213.66" y="350.07" font-size="7.00" fill="#2b2b2b" stroke="#2b2b2b" stroke-width="0.25" font-weight="normal" textLength="4.09" lengthAdjust="spacingAndGlyphs">+</text>
<text x="207.15" y="361.57" font-size="7.00" fill="#2b2b2b" stroke="#2b2b2b" stroke-width="0.25" font-weight="normal" textLength="3.89" lengthAdjust="spacingAndGlyphs">–</text>
<text x="213.66" y="361.57" font-size="7.00" fill="#2b2b2b" stroke="#2b2b2b" stroke-width="0.25" font-weight="normal" textLength="4.09" lengthAdjust="spacingAndGlyphs">+</text>
<text x="228.96" y="350.07" font-size="7.00" fill="#2b2b2b" stroke="#2b2b2b" stroke-width="0.25" font-weight="normal" textLength="4.09" lengthAdjust="spacingAndGlyphs">+</text>
<text x="235.56" y="350.07" font-size="7.00" fill="#2b2b2b" stroke="#2b2b2b" stroke-width="0.25" font-weight="normal" textLength="4.09" lengthAdjust="spacingAndGlyphs">+</text>
<text x="229.05" y="361.57" font-size="7.00" fill="#2b2b2b" stroke="#2b2b2b" stroke-width="0.25" font-weight="normal" textLength="3.89" lengthAdjust="spacingAndGlyphs">–</text>
<text x="235.56" y="361.57" font-size="7.00" fill="#2b2b2b" stroke="#2b2b2b" stroke-width="0.25" font-weight="normal" textLength="4.09" lengthAdjust="spacingAndGlyphs">+</text>
<text x="250.96" y="350.07" font-size="7.00" fill="#2b2b2b" stroke="#2b2b2b" stroke-width="0.25" font-weight="normal" textLength="4.09" lengthAdjust="spacingAndGlyphs">+</text>
<text x="257.56" y="350.07" font-size="7.00" fill="#2b2b2b" stroke="#2b2b2b" stroke-width="0.25" font-weight="normal" textLength="4.09" lengthAdjust="spacingAndGlyphs">+</text>
<text x="251.05" y="361.57" font-size="7.00" fill="#2b2b2b" stroke="#2b2b2b" stroke-width="0.25" font-weight="normal" textLength="3.89" lengthAdjust="spacingAndGlyphs">–</text>
<text x="257.56" y="361.57" font-size="7.00" fill="#2b2b2b" stroke="#2b2b2b" stroke-width="0.25" font-weight="normal" textLength="4.09" lengthAdjust="spacingAndGlyphs">+</text>
<text x="280.0" y="256.6" font-size="12" font-weight="bold" fill="#000" stroke="#000" stroke-width="0.35">E</text>
<line x1="334.50" y1="257.00" x2="334.50" y2="335.40" stroke="#2b2b2b" stroke-width="1"/>
<line x1="334.30" y1="334.50" x2="386.90" y2="334.50" stroke="#2b2b2b" stroke-width="1.2"/>
<line x1="331.50" y1="319.50" x2="334.50" y2="319.50" stroke="#2b2b2b" stroke-width="1"/>
<text x="320.75" y="321.98" font-size="7.60" fill="#2b2b2b" stroke="#2b2b2b" stroke-width="0.25" textLength="8.45" lengthAdjust="spacingAndGlyphs">20</text>
<line x1="331.50" y1="304.50" x2="334.50" y2="304.50" stroke="#2b2b2b" stroke-width="1"/>
<text x="320.75" y="307.00" font-size="7.60" fill="#2b2b2b" stroke="#2b2b2b" stroke-width="0.25" textLength="8.45" lengthAdjust="spacingAndGlyphs">40</text>
<line x1="331.50" y1="289.50" x2="334.50" y2="289.50" stroke="#2b2b2b" stroke-width="1"/>
<text x="320.75" y="292.02" font-size="7.60" fill="#2b2b2b" stroke="#2b2b2b" stroke-width="0.25" textLength="8.45" lengthAdjust="spacingAndGlyphs">60</text>
<line x1="331.50" y1="274.50" x2="334.50" y2="274.50" stroke="#2b2b2b" stroke-width="1"/>
<text x="320.75" y="277.04" font-size="7.60" fill="#2b2b2b" stroke="#2b2b2b" stroke-width="0.25" textLength="8.45" lengthAdjust="spacingAndGlyphs">80</text>
<line x1="331.50" y1="259.50" x2="334.50" y2="259.50" stroke="#2b2b2b" stroke-width="1"/>
<text x="316.52" y="262.06" font-size="7.60" fill="#2b2b2b" stroke="#2b2b2b" stroke-width="0.25" textLength="12.68" lengthAdjust="spacingAndGlyphs">100</text>
<rect x="338.1" y="312.1" width="8.9" height="22.3" fill="#0e4a88" />
<rect x="356.2" y="293.4" width="8.5" height="41.0" fill="#3cae3c" />
<rect x="374.1" y="275.6" width="8.5" height="58.8" fill="#5a2868" />
<circle cx="343.5" cy="311.2" r="1" fill="#111"/><circle cx="345" cy="311.5" r="0.9" fill="#111"/>
<circle cx="360.3" cy="289.7" r="1.1" fill="#111"/><circle cx="360.5" cy="297.5" r="1.1" fill="#111"/>
<circle cx="377" cy="273.8" r="1" fill="#111"/><circle cx="380" cy="275.3" r="0.9" fill="#111"/>
<line x1="342.50" y1="334.40" x2="342.50" y2="337.40" stroke="#2b2b2b" stroke-width="1"/>
<line x1="360.50" y1="334.40" x2="360.50" y2="337.40" stroke="#2b2b2b" stroke-width="1"/>
<line x1="378.50" y1="334.40" x2="378.50" y2="337.40" stroke="#2b2b2b" stroke-width="1"/>
<text x="339.4" y="262.18" font-size="8.00" fill="#2b2b2b" stroke="#2b2b2b" stroke-width="0.25" font-weight="normal" textLength="16.9" lengthAdjust="spacingAndGlyphs">SS06</text>
<text transform="translate(311.59,331.00) rotate(-90)" x="0" y="0" font-size="9.00" fill="#2b2b2b" stroke="#2b2b2b" stroke-width="0.25" textLength="67.7" lengthAdjust="spacingAndGlyphs">ADO [µM/10<tspan font-size="6" dy="-3">6</tspan><tspan dy="3"> cells]</tspan></text>
<text x="311.9" y="346.78" font-size="8.00" fill="#2b2b2b" stroke="#2b2b2b" stroke-width="0.25" font-weight="normal" textLength="16.6" lengthAdjust="spacingAndGlyphs">Time</text>
<text x="331.0" y="346.78" font-size="8.00" fill="#2b2b2b" stroke="#2b2b2b" stroke-width="0.25" font-weight="normal" textLength="22.6" lengthAdjust="spacingAndGlyphs">30 min</text>
<text x="355.7" y="346.78" font-size="8.00" fill="#2b2b2b" stroke="#2b2b2b" stroke-width="0.25" font-weight="normal" textLength="8.3" lengthAdjust="spacingAndGlyphs">1h</text>
<text x="374.0" y="346.78" font-size="8.00" fill="#2b2b2b" stroke="#2b2b2b" stroke-width="0.25" font-weight="normal" textLength="7.8" lengthAdjust="spacingAndGlyphs">3h</text>
<text x="280.2" y="357.38" font-size="8.00" fill="#2b2b2b" stroke="#2b2b2b" stroke-width="0.25" font-weight="normal" textLength="48.6" lengthAdjust="spacingAndGlyphs">AMP (100 µM)</text>
<text x="340.56" y="357.07" font-size="7.00" fill="#2b2b2b" stroke="#2b2b2b" stroke-width="0.25" font-weight="normal" textLength="4.09" lengthAdjust="spacingAndGlyphs">+</text>
<text x="358.06" y="357.07" font-size="7.00" fill="#2b2b2b" stroke="#2b2b2b" stroke-width="0.25" font-weight="normal" textLength="4.09" lengthAdjust="spacingAndGlyphs">+</text>
<text x="374.26" y="357.07" font-size="7.00" fill="#2b2b2b" stroke="#2b2b2b" stroke-width="0.25" font-weight="normal" textLength="4.09" lengthAdjust="spacingAndGlyphs">+</text>
<text x="396.0" y="256.3" font-size="10.5" font-weight="bold" fill="#000" stroke="#000" stroke-width="0.35">F</text>
<rect x="406.8" y="253.4" width="112" height="136.6" fill="#ffffff" stroke="#777" stroke-width="1.3"/>
<line x1="456.80" y1="318.00" x2="467.50" y2="309.00" stroke="#b5d0e4" stroke-width="0.7"/>
<line x1="456.80" y1="323.00" x2="467.50" y2="331.00" stroke="#b5d0e4" stroke-width="0.7"/>
<rect x="467.5" y="255.2" width="48.5" height="56.5" fill="#fdf9f9" stroke="#e6dcdc" stroke-width="0.6"/>
<rect x="467.8" y="300.7" width="47.9" height="11" fill="#fae8e8"/>
<path d="M467.8,305.2 Q474,301.7 481,304.7 Q490,308.7 497,303.7 Q506,299.7 515.7,304.7 L515.7,311.7 L467.8,311.7 Z" fill="#f5d0d2"/>
<ellipse cx="477" cy="307.5" rx="3.2" ry="1.1" fill="#e1727f"/>
<ellipse cx="497" cy="308.2" rx="3.2" ry="1.1" fill="#e1727f"/>
<ellipse cx="510" cy="308.7" rx="3.5" ry="1.2" fill="#b98b9a"/>
<circle cx="484.8" cy="268.5" r="12.7" fill="#86cde3"/>
<circle cx="484.8" cy="268.5" r="7.6" fill="#3f9fc2"/>
<text x="484.8" y="270.1" font-size="4.8" fill="#102a40" stroke="#102a40" stroke-width="0.1" text-anchor="middle" textLength="11" lengthAdjust="spacingAndGlyphs">SS cell</text>
<text x="468.5" y="295.0" font-size="3.2" fill="#222">ATP</text>
<text x="478.5" y="295.0" font-size="3.2" fill="#222">ADP</text>
<text x="488.5" y="295.0" font-size="3.2" fill="#222">AMP</text>
<path d="M472.5,293.2 q2.8,-2.8 5.8,-0.2" fill="none" stroke="#222" stroke-width="0.6"/>
<path d="M478.3,293.0 l-1.3,-0.5 l0.4,1.3 z" fill="#222"/>
<path d="M482.5,293.2 q2.8,-2.8 5.8,-0.2" fill="none" stroke="#222" stroke-width="0.6"/>
<path d="M488.3,293.0 l-1.3,-0.5 l0.4,1.3 z" fill="#222"/>
<path d="M492.5,293.2 q2.8,-2.8 5.8,-0.2" fill="none" stroke="#222" stroke-width="0.6"/>
<path d="M498.3,293.0 l-1.3,-0.5 l0.4,1.3 z" fill="#222"/>
<path d="M503,293.2 q2.8,-2.8 5.8,-0.2" fill="none" stroke="#222" stroke-width="0.6"/>
<path d="M508.8,293.0 l-1.3,-0.5 l0.4,1.3 z" fill="#222"/>
<text x="478.3" y="303.09999999999997" font-size="5.2" fill="#222" stroke="#222" stroke-width="0.1" textLength="10.5" lengthAdjust="spacingAndGlyphs">CD73</text>
<line x1="491.3" y1="296.2" x2="491.6" y2="304.2" stroke="#2f9a3a" stroke-width="1.3"/>
<line x1="494.2" y1="296.2" x2="494.5" y2="304.2" stroke="#2f9a3a" stroke-width="1.3"/>
<line x1="497.1" y1="296.2" x2="497.40000000000003" y2="304.2" stroke="#2f9a3a" stroke-width="1.3"/>
<line x1="500.0" y1="296.2" x2="500.3" y2="304.2" stroke="#2f9a3a" stroke-width="1.3"/>
<rect x="467.5" y="329.6" width="48.5" height="57.69999999999999" fill="#fdf9f9" stroke="#e6dcdc" stroke-width="0.6"/>
<rect x="467.8" y="376.3" width="47.9" height="11" fill="#fae8e8"/>
<path d="M467.8,380.8 Q474,377.3 481,380.3 Q490,384.3 497,379.3 Q506,375.3 515.7,380.3 L515.7,387.3 L467.8,387.3 Z" fill="#f5d0d2"/>
<ellipse cx="477" cy="383.1" rx="3.2" ry="1.1" fill="#e1727f"/>
<ellipse cx="497" cy="383.8" rx="3.2" ry="1.1" fill="#e1727f"/>
<ellipse cx="510" cy="384.3" rx="3.5" ry="1.2" fill="#b98b9a"/>
<circle cx="484.8" cy="342.3" r="12.7" fill="#86cde3"/>
<circle cx="484.8" cy="342.3" r="7.6" fill="#3f9fc2"/>
<text x="484.8" y="343.90000000000003" font-size="4.8" fill="#102a40" stroke="#102a40" stroke-width="0.1" text-anchor="middle" textLength="11" lengthAdjust="spacingAndGlyphs">SS cell</text>
<text x="468.5" y="369.1" font-size="3.2" fill="#222">ATP</text>
<text x="478.5" y="369.1" font-size="3.2" fill="#222">ADP</text>
<text x="488.5" y="369.1" font-size="3.2" fill="#222">AMP</text>
<path d="M472.5,367.3 q2.8,-2.8 5.8,-0.2" fill="none" stroke="#222" stroke-width="0.6"/>
<path d="M478.3,367.1 l-1.3,-0.5 l0.4,1.3 z" fill="#222"/>
<path d="M482.5,367.3 q2.8,-2.8 5.8,-0.2" fill="none" stroke="#222" stroke-width="0.6"/>
<path d="M488.3,367.1 l-1.3,-0.5 l0.4,1.3 z" fill="#222"/>
<path d="M492.5,367.3 q2.8,-2.8 5.8,-0.2" fill="none" stroke="#222" stroke-width="0.6"/>
<path d="M498.3,367.1 l-1.3,-0.5 l0.4,1.3 z" fill="#222"/>
<path d="M503,367.3 q2.8,-2.8 5.8,-0.2" fill="none" stroke="#222" stroke-width="0.6"/>
<path d="M508.8,367.1 l-1.3,-0.5 l0.4,1.3 z" fill="#222"/>
<text x="478.3" y="378.7" font-size="5.2" fill="#222" stroke="#222" stroke-width="0.1" textLength="10.5" lengthAdjust="spacingAndGlyphs">CD73</text>
<line x1="491.3" y1="371.8" x2="491.6" y2="379.8" stroke="#2f9a3a" stroke-width="1.3"/>
<line x1="494.2" y1="371.8" x2="494.5" y2="379.8" stroke="#2f9a3a" stroke-width="1.3"/>
<line x1="497.1" y1="371.8" x2="497.40000000000003" y2="379.8" stroke="#2f9a3a" stroke-width="1.3"/>
<line x1="500.0" y1="371.8" x2="500.3" y2="379.8" stroke="#2f9a3a" stroke-width="1.3"/>
<line x1="480.8" y1="282.9" x2="480.2" y2="288" stroke="#f3a33a" stroke-width="1.7" stroke-linecap="round"/>
<line x1="487.1" y1="281.7" x2="487.7" y2="288" stroke="#f3a33a" stroke-width="1.7" stroke-linecap="round"/>
<line x1="493.5" y1="279.4" x2="495.2" y2="285.8" stroke="#f3a33a" stroke-width="1.7" stroke-linecap="round"/>
<line x1="496.9" y1="277.1" x2="500.4" y2="281.7" stroke="#f3a33a" stroke-width="1.7" stroke-linecap="round"/>
<text x="469.2" y="284.4" font-size="5" fill="#222" stroke="#222" stroke-width="0.1" textLength="10.4" lengthAdjust="spacingAndGlyphs">CD39</text>
<text x="505" y="291.3" font-size="3.6" fill="#e06a55">ADO</text>
<path d="M510,287 l1.5,2 l-2,1 l2.4,0.3" fill="none" stroke="#e06a55" stroke-width="0.5"/>
<line x1="489.4" y1="357.3" x2="488.8" y2="362.5" stroke="#2f8a3a" stroke-width="1.5" stroke-linecap="round"/>
<line x1="492.9" y1="355.6" x2="493.5" y2="360.8" stroke="#2f8a3a" stroke-width="1.5" stroke-linecap="round"/>
<line x1="495.8" y1="353.8" x2="498.7" y2="358.5" stroke="#2f8a3a" stroke-width="1.5" stroke-linecap="round"/>
<text x="498" y="353.4" font-size="5.2" fill="#222" stroke="#222" stroke-width="0.1" textLength="11" lengthAdjust="spacingAndGlyphs">CD73</text>
<rect x="502" y="369" width="13.5" height="15.5" fill="#fbeeee" opacity="0.8"/>
<text x="412.5" y="298.7" font-size="6.4" fill="#1a1a1a" stroke="#1a1a1a" stroke-width="0.2" textLength="43" lengthAdjust="spacingAndGlyphs">Co-culture model</text>
<rect x="410.6" y="302.5" width="45.7" height="33.8" fill="#e2edf5" stroke="#b8c9d8" stroke-width="0.6"/>
<rect x="411" y="302.9" width="44.9" height="4" fill="#eef4f9"/>
<path d="M410.9,332 Q416,330 421,332 T431,332 T441,332 T451,332 T456,332 L456,336 L410.9,336 Z" fill="#f4c4c6"/>
<ellipse cx="414" cy="333.6" rx="2.2" ry="0.7" fill="#e58a94"/>
<ellipse cx="421" cy="333.6" rx="2.2" ry="0.7" fill="#e58a94"/>
<ellipse cx="428" cy="333.6" rx="2.2" ry="0.7" fill="#e58a94"/>
<ellipse cx="436" cy="333.6" rx="2.2" ry="0.7" fill="#e58a94"/>
<ellipse cx="444" cy="333.6" rx="2.2" ry="0.7" fill="#e58a94"/>
<ellipse cx="451" cy="333.6" rx="2.2" ry="0.7" fill="#e58a94"/>
<circle cx="422.5" cy="315" r="3.6" fill="#94d2e6"/>
<circle cx="422.5" cy="315" r="2.3" fill="#3e9dc2"/>
<circle cx="430" cy="314.4" r="3.6" fill="#94d2e6"/>
<circle cx="430" cy="314.4" r="2.3" fill="#3e9dc2"/>
<circle cx="439.4" cy="313.75" r="3.6" fill="#94d2e6"/>
<circle cx="439.4" cy="313.75" r="2.3" fill="#3e9dc2"/>
<circle cx="448.1" cy="315.6" r="3.6" fill="#94d2e6"/>
<circle cx="448.1" cy="315.6" r="2.3" fill="#3e9dc2"/>
<circle cx="434.4" cy="319.4" r="3.6" fill="#94d2e6"/>
<circle cx="434.4" cy="319.4" r="2.3" fill="#3e9dc2"/>
<circle cx="422.5" cy="322.5" r="3.6" fill="#94d2e6"/>
<circle cx="422.5" cy="322.5" r="2.3" fill="#3e9dc2"/>
<circle cx="440.6" cy="318.75" r="3.6" fill="#94d2e6"/>
<circle cx="440.6" cy="318.75" r="2.3" fill="#3e9dc2"/>
<circle cx="446.3" cy="318.1" r="3.6" fill="#94d2e6"/>
<circle cx="446.3" cy="318.1" r="2.3" fill="#3e9dc2"/>
<circle cx="429.4" cy="326.9" r="3.6" fill="#94d2e6"/>
<circle cx="429.4" cy="326.9" r="2.3" fill="#3e9dc2"/>
<circle cx="440" cy="324.4" r="3.6" fill="#94d2e6"/>
<circle cx="440" cy="324.4" r="2.3" fill="#3e9dc2"/>
<circle cx="446.9" cy="326.9" r="3.6" fill="#94d2e6"/>
<circle cx="446.9" cy="326.9" r="2.3" fill="#3e9dc2"/>
<circle cx="433.1" cy="328.1" r="3.6" fill="#94d2e6"/>
<circle cx="433.1" cy="328.1" r="2.3" fill="#3e9dc2"/>
<circle cx="416.5" cy="317" r="3.6" fill="#94d2e6"/>
<circle cx="416.5" cy="317" r="2.3" fill="#3e9dc2"/>
<circle cx="414.5" cy="312.5" r="1.9" fill="#c9606a"/>
<circle cx="440.4" cy="319.2" r="1.3" fill="#d97a6a"/>
<circle cx="421.5" cy="327.5" r="1.2" fill="#6e74b8"/>
<circle cx="451.5" cy="315" r="1.2" fill="#6e74b8"/>
<line x1="423.75" y1="332.50" x2="418.60" y2="342.50" stroke="#222" stroke-width="0.7"/>
<path d="M418.1,344.2 L417.9,341.2 L420.0,342.2 Z" fill="#222"/>
<line x1="441.90" y1="328.10" x2="448.90" y2="343.20" stroke="#222" stroke-width="0.7"/>
<path d="M449.5,344.8 L447.4,342.8 L449.6,342 Z" fill="#222"/>
<text x="410" y="352.6" font-size="6.4" fill="#1a1a1a" stroke="#1a1a1a" stroke-width="0.2" textLength="18.7" lengthAdjust="spacingAndGlyphs">HPMEC</text>
<text x="413.1" y="359.5" font-size="6.4" fill="#1a1a1a" stroke="#1a1a1a" stroke-width="0.2" textLength="11.9" lengthAdjust="spacingAndGlyphs">layer</text>
<text x="446.9" y="352.6" font-size="6.4" fill="#1a1a1a" stroke="#1a1a1a" stroke-width="0.2" textLength="5" lengthAdjust="spacingAndGlyphs">SS</text>
<text x="441.9" y="359.5" font-size="6.4" fill="#1a1a1a" stroke="#1a1a1a" stroke-width="0.2" textLength="18.1" lengthAdjust="spacingAndGlyphs">PBMCs</text>
<text x="1.5" y="415.8" font-size="11.5" font-weight="bold" fill="#000" stroke="#000" stroke-width="0.35">G</text>
<text x="37.5" y="414.38" font-size="8.00" fill="#2b2b2b" stroke="#2b2b2b" stroke-width="0.25" font-weight="normal" textLength="90.0" lengthAdjust="spacingAndGlyphs">SS10 (CD39<tspan font-size="5.2" dy="-2.8" stroke-width="0" fill="#555">high</tspan><tspan dy="2.8">) + HPMEC</tspan></text>
<line x1="35.50" y1="434.30" x2="35.50" y2="487.50" stroke="#2b2b2b" stroke-width="1"/>
<line x1="32.50" y1="439.50" x2="35.50" y2="439.50" stroke="#2b2b2b" stroke-width="1"/>
<line x1="32.50" y1="461.50" x2="35.50" y2="461.50" stroke="#2b2b2b" stroke-width="1"/>
<line x1="32.50" y1="483.50" x2="35.50" y2="483.50" stroke="#2b2b2b" stroke-width="1"/>
<text x="14.4" y="441.76" font-size="7.60" fill="#2b2b2b" stroke="#2b2b2b" stroke-width="0.25" font-weight="normal" textLength="16.0" lengthAdjust="spacingAndGlyphs">0.10</text>
<text x="14.4" y="463.56" font-size="7.60" fill="#2b2b2b" stroke="#2b2b2b" stroke-width="0.25" font-weight="normal" textLength="16.0" lengthAdjust="spacingAndGlyphs">0.05</text>
<text x="14.4" y="485.36" font-size="7.60" fill="#2b2b2b" stroke="#2b2b2b" stroke-width="0.25" font-weight="normal" textLength="16.0" lengthAdjust="spacingAndGlyphs">0.00</text>
<text transform="translate(8.74,498.00) rotate(-90)" x="0" y="0" font-size="9.50" fill="#2b2b2b" stroke="#2b2b2b" stroke-width="0.25" textLength="75.0" lengthAdjust="spacingAndGlyphs">Absorbance (254 nm)</text>
<line x1="35.00" y1="486.60" x2="92.10" y2="501.90" stroke="#2b2b2b" stroke-width="1.4"/>
<line x1="37.00" y1="487.10" x2="36.60" y2="488.90" stroke="#2b2b2b" stroke-width="0.9"/>
<line x1="40.86" y1="488.14" x2="40.46" y2="489.94" stroke="#2b2b2b" stroke-width="0.9"/>
<line x1="44.71" y1="489.17" x2="44.31" y2="490.97" stroke="#2b2b2b" stroke-width="0.9"/>
<line x1="48.57" y1="490.21" x2="48.17" y2="492.01" stroke="#2b2b2b" stroke-width="0.9"/>
<line x1="52.43" y1="491.24" x2="52.03" y2="493.04" stroke="#2b2b2b" stroke-width="0.9"/>
<line x1="56.29" y1="492.28" x2="55.89" y2="494.08" stroke="#2b2b2b" stroke-width="0.9"/>
<line x1="60.14" y1="493.31" x2="59.74" y2="495.11" stroke="#2b2b2b" stroke-width="0.9"/>
<line x1="64.00" y1="494.35" x2="63.60" y2="496.15" stroke="#2b2b2b" stroke-width="0.9"/>
<line x1="67.86" y1="495.39" x2="67.46" y2="497.19" stroke="#2b2b2b" stroke-width="0.9"/>
<line x1="71.71" y1="496.42" x2="71.31" y2="498.22" stroke="#2b2b2b" stroke-width="0.9"/>
<line x1="75.57" y1="497.46" x2="75.17" y2="499.26" stroke="#2b2b2b" stroke-width="0.9"/>
<line x1="79.43" y1="498.49" x2="79.03" y2="500.29" stroke="#2b2b2b" stroke-width="0.9"/>
<line x1="83.29" y1="499.53" x2="82.89" y2="501.33" stroke="#2b2b2b" stroke-width="0.9"/>
<line x1="87.14" y1="500.56" x2="86.74" y2="502.36" stroke="#2b2b2b" stroke-width="0.9"/>
<line x1="91.00" y1="501.60" x2="90.60" y2="503.40" stroke="#2b2b2b" stroke-width="0.9"/>
<text x="31.5" y="500.86" font-size="7.60" fill="#2b2b2b" stroke="#2b2b2b" stroke-width="0.25" font-weight="normal" textLength="9.7" lengthAdjust="spacingAndGlyphs">5.0</text>
<text x="41.5" y="505.06" font-size="7.60" fill="#2b2b2b" stroke="#2b2b2b" stroke-width="0.25" font-weight="normal" textLength="15.0" lengthAdjust="spacingAndGlyphs">10.0</text>
<text x="57.5" y="507.96" font-size="7.60" fill="#2b2b2b" stroke="#2b2b2b" stroke-width="0.25" font-weight="normal" textLength="14.5" lengthAdjust="spacingAndGlyphs">15.0</text>
<text x="72.9" y="511.76" font-size="7.60" fill="#2b2b2b" stroke="#2b2b2b" stroke-width="0.25" font-weight="normal" textLength="14.8" lengthAdjust="spacingAndGlyphs">20.0</text>
<text x="43.0" y="522.95" font-size="9.50" fill="#2b2b2b" stroke="#2b2b2b" stroke-width="0.25" font-weight="normal" textLength="42.4" lengthAdjust="spacingAndGlyphs">Rt (minutes)</text>
<line x1="42.85" y1="487.80" x2="70.50" y2="466.00" stroke="#dfe2e8" stroke-width="0.6"/>
<line x1="62.00" y1="490.20" x2="90.00" y2="466.30" stroke="#dfe2e8" stroke-width="0.6"/>
<line x1="82.10" y1="493.20" x2="112.90" y2="468.20" stroke="#dfe2e8" stroke-width="0.6"/>
<line x1="52.00" y1="489.00" x2="98.40" y2="480.20" stroke="#dfe2e8" stroke-width="0.6"/>
<line x1="60.00" y1="489.80" x2="112.90" y2="476.00" stroke="#dfe2e8" stroke-width="0.6"/>
<path d="M70.50,466.00 C71.13,465.33 71.77,465.08 72.40,464.00 C72.90,463.14 73.40,459.83 73.90,457.90 C74.33,456.22 74.77,453.10 75.20,453.10 C75.60,453.10 76.00,455.75 76.40,456.70 C76.70,457.41 77.00,458.50 77.30,458.50 C77.50,458.50 77.70,454.47 77.90,448.20" fill="none" stroke="#58b558" stroke-width="1.2" stroke-linejoin="round" stroke-linecap="round"/>
<path d="M77.90,448.20 C78.00,445.07 78.10,421.14 78.20,420.50 C78.30,419.86 78.40,419.50 78.50,419.50 C79.50,419.50 80.50,419.50 81.50,419.50 C81.70,419.50 81.90,438.11 82.10,442.20 C82.30,446.29 82.50,449.25 82.70,450.60 C83.10,453.29 83.50,454.40 83.90,455.50 C84.50,457.15 85.10,458.06 85.70,459.10 C86.50,460.48 87.30,461.90 88.10,462.70 C88.90,463.50 89.70,464.28 90.50,464.50" fill="none" stroke="#c4284f" stroke-width="1.2" stroke-linejoin="round" stroke-linecap="round"/>
<path d="M90.50,464.50 C91.73,464.84 92.97,465.10 94.20,465.10 C95.00,465.10 95.80,464.93 96.60,464.50 C97.00,464.29 97.40,460.52 97.80,457.90" fill="none" stroke="#5a6270" stroke-width="1.2" stroke-linejoin="round" stroke-linecap="round"/>
<path d="M97.80,457.90 C98.20,455.28 98.60,448.20 99.00,448.20 C99.40,448.20 99.80,454.31 100.20,456.70 C100.67,459.49 101.13,462.82 101.60,463.90 C102.33,465.59 103.07,466.70 103.80,467.00" fill="none" stroke="#3f6fa3" stroke-width="1.2" stroke-linejoin="round" stroke-linecap="round"/>
<path d="M103.80,467.00 C105.00,467.49 106.20,467.66 107.40,467.80 C109.23,468.01 111.07,468.07 112.90,468.20" fill="none" stroke="#5a6270" stroke-width="1.2" stroke-linejoin="round" stroke-linecap="round"/>
<path d="M56.50,474.00 C57.00,473.27 57.50,472.93 58.00,471.80 C58.40,470.89 58.80,468.07 59.20,466.30 C59.67,464.23 60.13,460.30 60.60,460.30 C61.00,460.30 61.40,463.48 61.80,465.10 C62.20,466.72 62.60,470.00 63.00,470.00 C63.20,470.00 63.40,465.82 63.60,460.30" fill="none" stroke="#58b558" stroke-width="1.2" stroke-linejoin="round" stroke-linecap="round"/>
<path d="M63.60,460.30 C63.73,456.62 63.87,432.00 64.00,431.30 C64.07,430.95 64.13,430.70 64.20,430.70 C64.87,430.70 65.53,430.70 66.20,430.70 C66.40,430.70 66.60,444.15 66.80,448.20 C67.07,453.59 67.33,457.66 67.60,460.30 C68.00,464.25 68.40,467.20 68.80,468.80 C69.40,471.20 70.00,472.69 70.60,473.60 C71.60,475.11 72.60,476.31 73.60,476.60" fill="none" stroke="#c4284f" stroke-width="1.2" stroke-linejoin="round" stroke-linecap="round"/>
<path d="M73.60,476.60 C74.80,476.95 76.00,477.03 77.20,477.20 C78.83,477.43 80.47,477.80 82.10,477.80 C82.40,477.80 82.70,471.20 83.00,468.80" fill="none" stroke="#5a6270" stroke-width="1.2" stroke-linejoin="round" stroke-linecap="round"/>
<path d="M83.00,468.80 C83.43,465.33 83.87,460.30 84.30,460.30 C84.63,460.30 84.97,463.31 85.30,465.10 C85.63,466.89 85.97,469.92 86.30,471.20 C86.90,473.51 87.50,475.23 88.10,476.00" fill="none" stroke="#3f6fa3" stroke-width="1.2" stroke-linejoin="round" stroke-linecap="round"/>
<path d="M88.10,476.00 C89.10,477.29 90.10,477.97 91.10,478.40 C92.53,479.01 93.97,479.27 95.40,479.60 C96.40,479.83 97.40,480.00 98.40,480.20" fill="none" stroke="#5a6270" stroke-width="1.2" stroke-linejoin="round" stroke-linecap="round"/>
<path d="M42.85,487.80 C43.27,486.70 43.68,486.01 44.10,484.50 C44.60,482.68 45.10,475.40 45.60,475.40 C45.90,475.40 46.20,478.31 46.50,479.60 C46.70,480.46 46.90,482.00 47.10,482.00 C47.30,482.00 47.50,477.16 47.70,472.40" fill="none" stroke="#58b558" stroke-width="1.2" stroke-linejoin="round" stroke-linecap="round"/>
<path d="M47.70,472.40 C47.90,467.64 48.10,446.19 48.30,444.60 C48.37,444.07 48.43,443.60 48.50,443.60 C49.43,443.60 50.37,443.60 51.30,443.60 C51.50,443.60 51.70,456.81 51.90,460.30 C52.23,466.11 52.57,470.23 52.90,472.40 C53.37,475.43 53.83,477.07 54.30,478.40 C55.10,480.68 55.90,482.11 56.70,483.30 C57.93,485.14 59.17,486.47 60.40,487.50 C61.60,488.51 62.80,489.61 64.00,489.90" fill="none" stroke="#c4284f" stroke-width="1.2" stroke-linejoin="round" stroke-linecap="round"/>
<path d="M64.00,489.90 C64.87,490.11 65.73,490.30 66.60,490.30 C66.93,490.30 67.27,487.43 67.60,484.50" fill="none" stroke="#5a6270" stroke-width="1.2" stroke-linejoin="round" stroke-linecap="round"/>
<path d="M67.60,484.50 C67.93,481.57 68.27,470.25 68.60,466.30 C68.97,461.95 69.33,456.70 69.70,456.70 C70.00,456.70 70.30,461.22 70.60,464.00 C71.00,467.71 71.40,474.48 71.80,477.20 C72.40,481.27 73.00,484.24 73.60,485.70 C74.63,488.22 75.67,489.68 76.70,490.50" fill="none" stroke="#3f6fa3" stroke-width="1.2" stroke-linejoin="round" stroke-linecap="round"/>
<path d="M76.70,490.50 C78.50,491.93 80.30,492.30 82.10,493.20" fill="none" stroke="#5a6270" stroke-width="1.2" stroke-linejoin="round" stroke-linecap="round"/>
<text x="87.5" y="494.48" font-size="8.00" fill="#2b2b2b" stroke="#2b2b2b" stroke-width="0.25" font-weight="normal" textLength="13.3" lengthAdjust="spacingAndGlyphs">ATP</text>
<text x="102.9" y="482.78" font-size="8.00" fill="#2b2b2b" stroke="#2b2b2b" stroke-width="0.25" font-weight="normal" textLength="47.7" lengthAdjust="spacingAndGlyphs">ATP + POM-1</text>
<text x="116.0" y="469.38" font-size="8.00" fill="#2b2b2b" stroke="#2b2b2b" stroke-width="0.25" font-weight="normal" textLength="43.6" lengthAdjust="spacingAndGlyphs">ATP + APCP</text>
<text x="207.4" y="414.38" font-size="8.00" fill="#2b2b2b" stroke="#2b2b2b" stroke-width="0.25" font-weight="normal" textLength="89.9" lengthAdjust="spacingAndGlyphs">SS06 (CD73<tspan font-size="5.2" dy="-2.8" stroke-width="0" fill="#555">high</tspan><tspan dy="2.8">) + HPMEC</tspan></text>
<line x1="200.50" y1="434.90" x2="200.50" y2="489.00" stroke="#2b2b2b" stroke-width="1"/>
<line x1="197.80" y1="440.50" x2="200.80" y2="440.50" stroke="#2b2b2b" stroke-width="1"/>
<line x1="197.80" y1="461.50" x2="200.80" y2="461.50" stroke="#2b2b2b" stroke-width="1"/>
<line x1="197.80" y1="483.50" x2="200.80" y2="483.50" stroke="#2b2b2b" stroke-width="1"/>
<text x="179.2" y="442.76" font-size="7.60" fill="#2b2b2b" stroke="#2b2b2b" stroke-width="0.25" font-weight="normal" textLength="16.4" lengthAdjust="spacingAndGlyphs">0.10</text>
<text x="179.2" y="464.26" font-size="7.60" fill="#2b2b2b" stroke="#2b2b2b" stroke-width="0.25" font-weight="normal" textLength="16.4" lengthAdjust="spacingAndGlyphs">0.05</text>
<text x="179.2" y="486.06" font-size="7.60" fill="#2b2b2b" stroke="#2b2b2b" stroke-width="0.25" font-weight="normal" textLength="16.4" lengthAdjust="spacingAndGlyphs">0.00</text>
<text transform="translate(173.84,499.00) rotate(-90)" x="0" y="0" font-size="9.50" fill="#2b2b2b" stroke="#2b2b2b" stroke-width="0.25" textLength="75.0" lengthAdjust="spacingAndGlyphs">Absorbance (254 nm)</text>
<line x1="200.20" y1="488.70" x2="256.90" y2="503.30" stroke="#2b2b2b" stroke-width="1.4"/>
<line x1="202.00" y1="489.20" x2="201.60" y2="491.00" stroke="#2b2b2b" stroke-width="0.9"/>
<line x1="205.86" y1="490.19" x2="205.46" y2="491.99" stroke="#2b2b2b" stroke-width="0.9"/>
<line x1="209.71" y1="491.19" x2="209.31" y2="492.99" stroke="#2b2b2b" stroke-width="0.9"/>
<line x1="213.57" y1="492.18" x2="213.17" y2="493.98" stroke="#2b2b2b" stroke-width="0.9"/>
<line x1="217.43" y1="493.17" x2="217.03" y2="494.97" stroke="#2b2b2b" stroke-width="0.9"/>
<line x1="221.29" y1="494.16" x2="220.89" y2="495.96" stroke="#2b2b2b" stroke-width="0.9"/>
<line x1="225.14" y1="495.16" x2="224.74" y2="496.96" stroke="#2b2b2b" stroke-width="0.9"/>
<line x1="229.00" y1="496.15" x2="228.60" y2="497.95" stroke="#2b2b2b" stroke-width="0.9"/>
<line x1="232.86" y1="497.14" x2="232.46" y2="498.94" stroke="#2b2b2b" stroke-width="0.9"/>
<line x1="236.71" y1="498.14" x2="236.31" y2="499.94" stroke="#2b2b2b" stroke-width="0.9"/>
<line x1="240.57" y1="499.13" x2="240.17" y2="500.93" stroke="#2b2b2b" stroke-width="0.9"/>
<line x1="244.43" y1="500.12" x2="244.03" y2="501.92" stroke="#2b2b2b" stroke-width="0.9"/>
<line x1="248.29" y1="501.11" x2="247.89" y2="502.91" stroke="#2b2b2b" stroke-width="0.9"/>
<line x1="252.14" y1="502.11" x2="251.74" y2="503.91" stroke="#2b2b2b" stroke-width="0.9"/>
<line x1="256.00" y1="503.10" x2="255.60" y2="504.90" stroke="#2b2b2b" stroke-width="0.9"/>
<text x="196.9" y="501.26" font-size="7.60" fill="#2b2b2b" stroke="#2b2b2b" stroke-width="0.25" font-weight="normal" textLength="10.4" lengthAdjust="spacingAndGlyphs">5.0</text>
<text x="208.0" y="505.36" font-size="7.60" fill="#2b2b2b" stroke="#2b2b2b" stroke-width="0.25" font-weight="normal" textLength="14.3" lengthAdjust="spacingAndGlyphs">10.0</text>
<text x="223.5" y="508.26" font-size="7.60" fill="#2b2b2b" stroke="#2b2b2b" stroke-width="0.25" font-weight="normal" textLength="14.5" lengthAdjust="spacingAndGlyphs">15.0</text>
<text x="238.9" y="512.36" font-size="7.60" fill="#2b2b2b" stroke="#2b2b2b" stroke-width="0.25" font-weight="normal" textLength="13.9" lengthAdjust="spacingAndGlyphs">20.0</text>
<text x="208.9" y="523.95" font-size="9.50" fill="#2b2b2b" stroke="#2b2b2b" stroke-width="0.25" font-weight="normal" textLength="42.3" lengthAdjust="spacingAndGlyphs">Rt (minutes)</text>
<line x1="205.40" y1="488.70" x2="232.00" y2="464.50" stroke="#dfe2e8" stroke-width="0.6"/>
<line x1="226.00" y1="492.20" x2="254.00" y2="467.50" stroke="#dfe2e8" stroke-width="0.6"/>
<line x1="246.50" y1="495.30" x2="275.60" y2="471.80" stroke="#dfe2e8" stroke-width="0.6"/>
<line x1="215.00" y1="490.20" x2="261.70" y2="481.40" stroke="#dfe2e8" stroke-width="0.6"/>
<line x1="230.00" y1="492.70" x2="275.60" y2="478.00" stroke="#dfe2e8" stroke-width="0.6"/>
<path d="M232.00,464.50 C233.00,464.10 234.00,464.19 235.00,463.30 C235.40,462.95 235.80,454.21 236.20,451.20 C236.60,448.19 237.00,446.15 237.40,444.00 C238.03,440.60 238.67,434.90 239.30,434.90 C239.70,434.90 240.10,440.40 240.50,444.00 C240.90,447.60 241.30,454.40 241.70,457.30 C241.90,458.75 242.10,460.70 242.30,460.70 C242.60,460.70 242.90,455.35 243.20,451.20" fill="none" stroke="#58b558" stroke-width="1.2" stroke-linejoin="round" stroke-linecap="round"/>
<path d="M243.20,451.20 C243.50,447.05 243.80,437.01 244.10,433.10 C244.37,429.62 244.63,425.30 244.90,425.30 C245.23,425.30 245.57,429.63 245.90,433.10 C246.30,437.26 246.70,448.83 247.10,452.40 C247.57,456.56 248.03,459.30 248.50,460.90 C249.10,462.96 249.70,464.50 250.30,465.10" fill="none" stroke="#c4284f" stroke-width="1.2" stroke-linejoin="round" stroke-linecap="round"/>
<path d="M250.30,465.10 C251.70,466.50 253.10,467.00 254.50,467.50 C256.90,468.36 259.30,469.30 261.70,469.30 C262.73,469.30 263.77,469.30 264.80,469.30 C265.40,469.30 266.00,466.72 266.60,465.70" fill="none" stroke="#5a6270" stroke-width="1.2" stroke-linejoin="round" stroke-linecap="round"/>
<path d="M266.60,465.70 C267.00,465.02 267.40,463.90 267.80,463.90 C268.40,463.90 269.00,466.02 269.60,466.90 C270.40,468.07 271.20,469.41 272.00,470.00" fill="none" stroke="#3f6fa3" stroke-width="1.2" stroke-linejoin="round" stroke-linecap="round"/>
<path d="M272.00,470.00 C273.20,470.89 274.40,471.20 275.60,471.80" fill="none" stroke="#5a6270" stroke-width="1.2" stroke-linejoin="round" stroke-linecap="round"/>
<path d="M218.70,475.40 C219.70,475.20 220.70,475.25 221.70,474.80 C222.10,474.62 222.50,469.08 222.90,466.90 C223.33,464.54 223.77,461.61 224.20,460.90 C224.60,460.25 225.00,459.70 225.40,459.70 C225.80,459.70 226.20,460.65 226.60,461.50 C227.07,462.50 227.53,465.14 228.00,466.90 C228.33,468.16 228.67,470.60 229.00,470.60 C229.40,470.60 229.80,470.26 230.20,470.00" fill="none" stroke="#58b558" stroke-width="1.2" stroke-linejoin="round" stroke-linecap="round"/>
<path d="M230.20,470.00 C230.67,469.70 231.13,468.70 231.60,468.70 C232.03,468.70 232.47,470.00 232.90,470.00 C233.20,470.00 233.50,469.30 233.80,469.30 C234.20,469.30 234.60,470.89 235.00,471.80 C235.40,472.71 235.80,474.20 236.20,474.80 C237.00,476.00 237.80,476.78 238.60,477.20" fill="none" stroke="#c4284f" stroke-width="1.2" stroke-linejoin="round" stroke-linecap="round"/>
<path d="M238.60,477.20 C240.23,478.05 241.87,478.50 243.50,478.80 C245.67,479.20 247.83,479.35 250.00,479.60 C251.90,479.82 253.80,479.94 255.70,480.20 C257.70,480.48 259.70,481.00 261.70,481.40" fill="none" stroke="#5a6270" stroke-width="1.2" stroke-linejoin="round" stroke-linecap="round"/>
<path d="M205.40,488.70 C206.00,484.27 206.60,479.90 207.20,475.40 C207.83,470.65 208.47,465.91 209.10,460.90 C209.60,456.94 210.10,448.60 210.60,448.60 C211.00,448.60 211.40,448.89 211.80,449.50 C212.10,449.96 212.40,463.49 212.70,469.30 C212.97,474.47 213.23,483.20 213.50,483.20 C213.83,483.20 214.17,479.67 214.50,475.40" fill="none" stroke="#58b558" stroke-width="1.2" stroke-linejoin="round" stroke-linecap="round"/>
<path d="M214.50,475.40 C214.70,472.84 214.90,461.11 215.10,458.50 C215.30,455.89 215.50,453.40 215.70,453.40 C215.97,453.40 216.23,453.93 216.50,454.90 C216.70,455.63 216.90,466.69 217.10,469.30 C217.43,473.66 217.77,476.13 218.10,477.80 C218.70,480.80 219.30,482.45 219.90,483.80 C220.90,486.06 221.90,487.65 222.90,488.70 C224.53,490.41 226.17,491.69 227.80,492.30" fill="none" stroke="#c4284f" stroke-width="1.2" stroke-linejoin="round" stroke-linecap="round"/>
<path d="M227.80,492.30 C229.40,492.90 231.00,493.50 232.60,493.50 C233.80,493.50 235.00,493.35 236.20,492.90 C236.60,492.75 237.00,489.64 237.40,488.70" fill="none" stroke="#5a6270" stroke-width="1.2" stroke-linejoin="round" stroke-linecap="round"/>
<path d="M237.40,488.70 C237.73,487.92 238.07,486.90 238.40,486.90 C238.90,486.90 239.40,489.03 239.90,489.90 C240.70,491.29 241.50,492.94 242.30,493.50" fill="none" stroke="#3f6fa3" stroke-width="1.2" stroke-linejoin="round" stroke-linecap="round"/>
<path d="M242.30,493.50 C243.70,494.48 245.10,494.70 246.50,495.30" fill="none" stroke="#5a6270" stroke-width="1.2" stroke-linejoin="round" stroke-linecap="round"/>
<text x="252.7" y="498.38" font-size="8.00" fill="#2b2b2b" stroke="#2b2b2b" stroke-width="0.25" font-weight="normal" textLength="13.9" lengthAdjust="spacingAndGlyphs">ATP</text>
<text x="267.2" y="484.48" font-size="8.00" fill="#2b2b2b" stroke="#2b2b2b" stroke-width="0.25" font-weight="normal" textLength="42.8" lengthAdjust="spacingAndGlyphs">ATP + POM-1</text>
<text x="279.9" y="471.28" font-size="8.00" fill="#2b2b2b" stroke="#2b2b2b" stroke-width="0.25" font-weight="normal" textLength="43.1" lengthAdjust="spacingAndGlyphs">ATP + APCP</text>
<line x1="187.50" y1="534.20" x2="193.20" y2="534.20" stroke="#58b558" stroke-width="1.2"/>
<text x="195.8" y="536.68" font-size="8.00" fill="#2b2b2b" stroke="#2b2b2b" stroke-width="0.25" font-weight="normal" textLength="12.2" lengthAdjust="spacingAndGlyphs">ATP</text>
<line x1="215.40" y1="534.20" x2="224.20" y2="534.20" stroke="#c4284f" stroke-width="1.2"/>
<text x="226.5" y="536.68" font-size="8.00" fill="#2b2b2b" stroke="#2b2b2b" stroke-width="0.25" font-weight="normal" textLength="17.0" lengthAdjust="spacingAndGlyphs">AMP</text>
<line x1="250.50" y1="534.20" x2="258.80" y2="534.20" stroke="#3f6fa3" stroke-width="1.2"/>
<text x="262.0" y="536.68" font-size="8.00" fill="#2b2b2b" stroke="#2b2b2b" stroke-width="0.25" font-weight="normal" textLength="17.5" lengthAdjust="spacingAndGlyphs">ADO</text>
<text x="351.5" y="415.8" font-size="11.5" font-weight="bold" fill="#000" stroke="#000" stroke-width="0.35">H</text>
<line x1="386.50" y1="420.20" x2="386.50" y2="519.60" stroke="#2b2b2b" stroke-width="1"/>
<line x1="383.20" y1="518.50" x2="513.20" y2="518.50" stroke="#2b2b2b" stroke-width="1.2"/>
<line x1="383.30" y1="519.50" x2="386.50" y2="519.50" stroke="#2b2b2b" stroke-width="1"/>
<text x="375.17" y="521.16" font-size="7.60" fill="#2b2b2b" stroke="#2b2b2b" stroke-width="0.25" textLength="4.23" lengthAdjust="spacingAndGlyphs">0</text>
<line x1="383.30" y1="503.50" x2="386.50" y2="503.50" stroke="#2b2b2b" stroke-width="1"/>
<text x="370.95" y="505.12" font-size="7.60" fill="#2b2b2b" stroke="#2b2b2b" stroke-width="0.25" textLength="8.45" lengthAdjust="spacingAndGlyphs">10</text>
<line x1="383.30" y1="487.50" x2="386.50" y2="487.50" stroke="#2b2b2b" stroke-width="1"/>
<text x="370.95" y="489.09" font-size="7.60" fill="#2b2b2b" stroke="#2b2b2b" stroke-width="0.25" textLength="8.45" lengthAdjust="spacingAndGlyphs">20</text>
<line x1="383.30" y1="471.50" x2="386.50" y2="471.50" stroke="#2b2b2b" stroke-width="1"/>
<text x="370.95" y="473.06" font-size="7.60" fill="#2b2b2b" stroke="#2b2b2b" stroke-width="0.25" textLength="8.45" lengthAdjust="spacingAndGlyphs">30</text>
<line x1="383.30" y1="455.50" x2="386.50" y2="455.50" stroke="#2b2b2b" stroke-width="1"/>
<text x="370.95" y="457.02" font-size="7.60" fill="#2b2b2b" stroke="#2b2b2b" stroke-width="0.25" textLength="8.45" lengthAdjust="spacingAndGlyphs">40</text>
<line x1="383.30" y1="439.50" x2="386.50" y2="439.50" stroke="#2b2b2b" stroke-width="1"/>
<text x="370.95" y="440.99" font-size="7.60" fill="#2b2b2b" stroke="#2b2b2b" stroke-width="0.25" textLength="8.45" lengthAdjust="spacingAndGlyphs">50</text>
<line x1="383.30" y1="423.50" x2="386.50" y2="423.50" stroke="#2b2b2b" stroke-width="1"/>
<text x="370.95" y="424.96" font-size="7.60" fill="#2b2b2b" stroke="#2b2b2b" stroke-width="0.25" textLength="8.45" lengthAdjust="spacingAndGlyphs">60</text>
<text transform="translate(364.79,487.60) rotate(-90)" x="0" y="0" font-size="9.00" fill="#2b2b2b" stroke="#2b2b2b" stroke-width="0.25" textLength="35.3" lengthAdjust="spacingAndGlyphs">ADO [µM]</text>
<rect x="390.3" y="517.3" width="9.4" height="1.3" fill="#3b2a45" />
<rect x="401.9" y="517.3" width="9.4" height="1.3" fill="#3b2a45" />
<rect x="413.6" y="500.8" width="8.7" height="17.8" fill="#5a2868" />
<rect x="434.1" y="424.9" width="8.6" height="93.7" fill="#0e4a88" />
<rect x="445.5" y="468.5" width="8.5" height="50.1" fill="#0e4a88" />
<rect x="456.4" y="468.5" width="8.6" height="50.1" fill="#0e4a88" />
<rect x="476.8" y="504.3" width="8.7" height="14.3" fill="#3cae3c" />
<rect x="499.5" y="509.3" width="8.7" height="9.3" fill="#3cae3c" />
<line x1="395.50" y1="518.60" x2="395.50" y2="521.60" stroke="#2b2b2b" stroke-width="1"/>
<line x1="407.50" y1="518.60" x2="407.50" y2="521.60" stroke="#2b2b2b" stroke-width="1"/>
<line x1="418.50" y1="518.60" x2="418.50" y2="521.60" stroke="#2b2b2b" stroke-width="1"/>
<line x1="438.50" y1="518.60" x2="438.50" y2="521.60" stroke="#2b2b2b" stroke-width="1"/>
<line x1="449.50" y1="518.60" x2="449.50" y2="521.60" stroke="#2b2b2b" stroke-width="1"/>
<line x1="460.50" y1="518.60" x2="460.50" y2="521.60" stroke="#2b2b2b" stroke-width="1"/>
<line x1="481.50" y1="518.60" x2="481.50" y2="521.60" stroke="#2b2b2b" stroke-width="1"/>
<line x1="493.50" y1="518.60" x2="493.50" y2="521.60" stroke="#2b2b2b" stroke-width="1"/>
<line x1="504.50" y1="518.60" x2="504.50" y2="521.60" stroke="#2b2b2b" stroke-width="1"/>
<text transform="translate(397.63,514.00) rotate(-90)" x="0" y="0" font-size="8.50" fill="#2b2b2b" stroke="#2b2b2b" stroke-width="0.25" textLength="26.4" lengthAdjust="spacingAndGlyphs">HPMEC</text>
<text transform="translate(408.53,515.00) rotate(-90)" x="0" y="0" font-size="8.50" fill="#2b2b2b" stroke="#2b2b2b" stroke-width="0.25" textLength="16.6" lengthAdjust="spacingAndGlyphs">SS10</text>
<text transform="translate(420.74,497.00) rotate(-90)" x="0" y="0" font-size="8.50" fill="#2b2b2b" stroke="#2b2b2b" stroke-width="0.25" textLength="15.2" lengthAdjust="spacingAndGlyphs">SS06</text>
<text x="431.4" y="421.78" font-size="8.00" fill="#2b2b2b" stroke="#2b2b2b" stroke-width="0.25" font-weight="normal" textLength="53.4" lengthAdjust="spacingAndGlyphs">SS10 + HPMEC</text>
<text x="466.6" y="499.08" font-size="8.00" fill="#2b2b2b" stroke="#2b2b2b" stroke-width="0.25" font-weight="normal" textLength="52.9" lengthAdjust="spacingAndGlyphs">SS06 + HPMEC</text>
<text x="338.1" y="532.78" font-size="8.00" fill="#2b2b2b" stroke="#2b2b2b" stroke-width="0.25" font-weight="normal" textLength="46.5" lengthAdjust="spacingAndGlyphs">ATP (200 µM)</text>
<text x="327.9" y="543.68" font-size="8.00" fill="#2b2b2b" stroke="#2b2b2b" stroke-width="0.25" font-weight="normal" textLength="56.7" lengthAdjust="spacingAndGlyphs">POM-1 (100 µM)</text>
<text x="336.5" y="554.28" font-size="8.00" fill="#2b2b2b" stroke="#2b2b2b" stroke-width="0.25" font-weight="normal" textLength="48.1" lengthAdjust="spacingAndGlyphs">APCP (10 µM)</text>
<text x="393.36" y="532.77" font-size="7.00" fill="#2b2b2b" stroke="#2b2b2b" stroke-width="0.25" font-weight="normal" textLength="4.09" lengthAdjust="spacingAndGlyphs">+</text>
<text x="405.26" y="532.77" font-size="7.00" fill="#2b2b2b" stroke="#2b2b2b" stroke-width="0.25" font-weight="normal" textLength="4.09" lengthAdjust="spacingAndGlyphs">+</text>
<text x="416.76" y="532.77" font-size="7.00" fill="#2b2b2b" stroke="#2b2b2b" stroke-width="0.25" font-weight="normal" textLength="4.09" lengthAdjust="spacingAndGlyphs">+</text>
<text x="436.16" y="532.77" font-size="7.00" fill="#2b2b2b" stroke="#2b2b2b" stroke-width="0.25" font-weight="normal" textLength="4.09" lengthAdjust="spacingAndGlyphs">+</text>
<text x="447.46" y="532.77" font-size="7.00" fill="#2b2b2b" stroke="#2b2b2b" stroke-width="0.25" font-weight="normal" textLength="4.09" lengthAdjust="spacingAndGlyphs">+</text>
<text x="458.86" y="532.77" font-size="7.00" fill="#2b2b2b" stroke="#2b2b2b" stroke-width="0.25" font-weight="normal" textLength="4.09" lengthAdjust="spacingAndGlyphs">+</text>
<text x="478.96" y="532.77" font-size="7.00" fill="#2b2b2b" stroke="#2b2b2b" stroke-width="0.25" font-weight="normal" textLength="4.09" lengthAdjust="spacingAndGlyphs">+</text>
<text x="491.16" y="532.77" font-size="7.00" fill="#2b2b2b" stroke="#2b2b2b" stroke-width="0.25" font-weight="normal" textLength="4.09" lengthAdjust="spacingAndGlyphs">+</text>
<text x="502.46" y="532.77" font-size="7.00" fill="#2b2b2b" stroke="#2b2b2b" stroke-width="0.25" font-weight="normal" textLength="4.09" lengthAdjust="spacingAndGlyphs">+</text>
<line x1="394.00" y1="541.50" x2="396.80" y2="541.50" stroke="#333" stroke-width="0.8"/>
<line x1="405.90" y1="541.50" x2="408.70" y2="541.50" stroke="#333" stroke-width="0.8"/>
<line x1="417.40" y1="541.50" x2="420.20" y2="541.50" stroke="#333" stroke-width="0.8"/>
<line x1="436.80" y1="541.50" x2="439.60" y2="541.50" stroke="#333" stroke-width="0.8"/>
<text x="447.46" y="543.37" font-size="7.00" fill="#2b2b2b" stroke="#2b2b2b" stroke-width="0.25" font-weight="normal" textLength="4.09" lengthAdjust="spacingAndGlyphs">+</text>
<line x1="459.50" y1="541.50" x2="462.30" y2="541.50" stroke="#333" stroke-width="0.8"/>
<line x1="479.60" y1="541.50" x2="482.40" y2="541.50" stroke="#333" stroke-width="0.8"/>
<text x="491.16" y="543.37" font-size="7.00" fill="#2b2b2b" stroke="#2b2b2b" stroke-width="0.25" font-weight="normal" textLength="4.09" lengthAdjust="spacingAndGlyphs">+</text>
<line x1="503.10" y1="541.50" x2="505.90" y2="541.50" stroke="#333" stroke-width="0.8"/>
<line x1="394.00" y1="552.30" x2="396.80" y2="552.30" stroke="#333" stroke-width="0.8"/>
<line x1="405.90" y1="552.30" x2="408.70" y2="552.30" stroke="#333" stroke-width="0.8"/>
<line x1="417.40" y1="552.30" x2="420.20" y2="552.30" stroke="#333" stroke-width="0.8"/>
<line x1="436.80" y1="552.30" x2="439.60" y2="552.30" stroke="#333" stroke-width="0.8"/>
<line x1="448.10" y1="552.30" x2="450.90" y2="552.30" stroke="#333" stroke-width="0.8"/>
<text x="458.86" y="554.17" font-size="7.00" fill="#2b2b2b" stroke="#2b2b2b" stroke-width="0.25" font-weight="normal" textLength="4.09" lengthAdjust="spacingAndGlyphs">+</text>
<line x1="479.60" y1="552.30" x2="482.40" y2="552.30" stroke="#333" stroke-width="0.8"/>
<line x1="491.80" y1="552.30" x2="494.60" y2="552.30" stroke="#333" stroke-width="0.8"/>
<text x="502.46" y="554.17" font-size="7.00" fill="#2b2b2b" stroke="#2b2b2b" stroke-width="0.25" font-weight="normal" textLength="4.09" lengthAdjust="spacingAndGlyphs">+</text>
<rect x="2.2" y="575.6" width="2.2" height="6.7" fill="#111"/>
<line x1="45.50" y1="588.50" x2="45.50" y2="666.00" stroke="#2b2b2b" stroke-width="1"/>
<line x1="45.00" y1="665.50" x2="149.50" y2="665.50" stroke="#2b2b2b" stroke-width="1.2"/>
<line x1="42.40" y1="665.50" x2="45.50" y2="665.50" stroke="#2b2b2b" stroke-width="1"/>
<text x="35.17" y="667.36" font-size="7.60" fill="#2b2b2b" stroke="#2b2b2b" stroke-width="0.25" textLength="4.23" lengthAdjust="spacingAndGlyphs">0</text>
<line x1="42.40" y1="650.50" x2="45.50" y2="650.50" stroke="#2b2b2b" stroke-width="1"/>
<text x="30.95" y="652.52" font-size="7.60" fill="#2b2b2b" stroke="#2b2b2b" stroke-width="0.25" textLength="8.45" lengthAdjust="spacingAndGlyphs">20</text>
<line x1="42.40" y1="635.50" x2="45.50" y2="635.50" stroke="#2b2b2b" stroke-width="1"/>
<text x="30.95" y="637.68" font-size="7.60" fill="#2b2b2b" stroke="#2b2b2b" stroke-width="0.25" textLength="8.45" lengthAdjust="spacingAndGlyphs">40</text>
<line x1="42.40" y1="620.50" x2="45.50" y2="620.50" stroke="#2b2b2b" stroke-width="1"/>
<text x="30.95" y="622.84" font-size="7.60" fill="#2b2b2b" stroke="#2b2b2b" stroke-width="0.25" textLength="8.45" lengthAdjust="spacingAndGlyphs">60</text>
<line x1="42.40" y1="605.50" x2="45.50" y2="605.50" stroke="#2b2b2b" stroke-width="1"/>
<text x="30.95" y="608.00" font-size="7.60" fill="#2b2b2b" stroke="#2b2b2b" stroke-width="0.25" textLength="8.45" lengthAdjust="spacingAndGlyphs">80</text>
<line x1="42.40" y1="590.50" x2="45.50" y2="590.50" stroke="#2b2b2b" stroke-width="1"/>
<text x="26.72" y="593.16" font-size="7.60" fill="#2b2b2b" stroke="#2b2b2b" stroke-width="0.25" textLength="12.68" lengthAdjust="spacingAndGlyphs">100</text>
<text x="52.7" y="583.18" font-size="8.00" fill="#2b2b2b" stroke="#2b2b2b" stroke-width="0.25" font-weight="normal" textLength="91.2" lengthAdjust="spacingAndGlyphs">SS10 (CD39<tspan font-size="5" dy="-2.8" stroke-width="0" fill="#555">high</tspan><tspan dy="2.8">) + HPMEC</tspan></text>
<text transform="translate(7.74,655.90) rotate(-90)" x="0" y="0" font-size="9.50" fill="#2b2b2b" stroke="#2b2b2b" stroke-width="0.25" textLength="60.1" lengthAdjust="spacingAndGlyphs">% of proliferating</text>
<text transform="translate(19.55,647.50) rotate(-90)" x="0" y="0" font-size="9.50" fill="#2b2b2b" stroke="#2b2b2b" stroke-width="0.25" textLength="42.8" lengthAdjust="spacingAndGlyphs">CD8<tspan font-size="6" dy="-3">+</tspan><tspan dy="3"> T cells</tspan></text>
<rect x="50.0" y="606.3" width="9.5" height="58.7" fill="#c8102e" />
<rect x="63.8" y="637.0" width="9.2" height="28.0" fill="#0e4a88" />
<rect x="86.3" y="613.8" width="10.0" height="51.2" fill="#c8102e" />
<rect x="99.5" y="615.5" width="10.0" height="49.5" fill="#0e4a88" />
<rect x="123.0" y="606.3" width="9.5" height="58.7" fill="#c8102e" />
<rect x="136.3" y="616.3" width="9.5" height="48.7" fill="#0e4a88" />
<circle cx="54.8" cy="604.6" r="1.15" fill="#111"/>
<circle cx="68.4" cy="635.2" r="1.15" fill="#111"/>
<circle cx="91.3" cy="612.9" r="1.15" fill="#111"/>
<circle cx="104.5" cy="614.3" r="1.15" fill="#111"/>
<circle cx="127.8" cy="605.4" r="1.15" fill="#111"/>
<circle cx="141" cy="612" r="1.15" fill="#111"/>
<line x1="61.50" y1="665.00" x2="61.50" y2="668.00" stroke="#2b2b2b" stroke-width="1"/>
<line x1="98.50" y1="665.00" x2="98.50" y2="668.00" stroke="#2b2b2b" stroke-width="1"/>
<line x1="134.50" y1="665.00" x2="134.50" y2="668.00" stroke="#2b2b2b" stroke-width="1"/>
<text x="56.38" y="677.97" font-size="8.60" fill="#2b2b2b" stroke="#2b2b2b" stroke-width="0.25" font-weight="normal" textLength="10.99" lengthAdjust="spacingAndGlyphs">No</text>
<text x="45.0" y="687.27" font-size="8.60" fill="#2b2b2b" stroke="#2b2b2b" stroke-width="0.25" font-weight="normal" textLength="33.8" lengthAdjust="spacingAndGlyphs">treatment</text>
<text x="84.5" y="677.97" font-size="8.60" fill="#2b2b2b" stroke="#2b2b2b" stroke-width="0.25" font-weight="normal" textLength="27.5" lengthAdjust="spacingAndGlyphs">CPI-444</text>
<text x="115.0" y="677.97" font-size="8.60" fill="#2b2b2b" stroke="#2b2b2b" stroke-width="0.25" font-weight="normal" textLength="43.0" lengthAdjust="spacingAndGlyphs">Istradefylline</text>
<line x1="213.50" y1="588.50" x2="213.50" y2="666.00" stroke="#2b2b2b" stroke-width="1"/>
<line x1="213.00" y1="665.50" x2="317.50" y2="665.50" stroke="#2b2b2b" stroke-width="1.2"/>
<line x1="210.40" y1="665.50" x2="213.50" y2="665.50" stroke="#2b2b2b" stroke-width="1"/>
<text x="203.47" y="667.36" font-size="7.60" fill="#2b2b2b" stroke="#2b2b2b" stroke-width="0.25" textLength="4.23" lengthAdjust="spacingAndGlyphs">0</text>
<line x1="210.40" y1="650.50" x2="213.50" y2="650.50" stroke="#2b2b2b" stroke-width="1"/>
<text x="199.25" y="652.52" font-size="7.60" fill="#2b2b2b" stroke="#2b2b2b" stroke-width="0.25" textLength="8.45" lengthAdjust="spacingAndGlyphs">20</text>
<line x1="210.40" y1="635.50" x2="213.50" y2="635.50" stroke="#2b2b2b" stroke-width="1"/>
<text x="199.25" y="637.68" font-size="7.60" fill="#2b2b2b" stroke="#2b2b2b" stroke-width="0.25" textLength="8.45" lengthAdjust="spacingAndGlyphs">40</text>
<line x1="210.40" y1="620.50" x2="213.50" y2="620.50" stroke="#2b2b2b" stroke-width="1"/>
<text x="199.25" y="622.84" font-size="7.60" fill="#2b2b2b" stroke="#2b2b2b" stroke-width="0.25" textLength="8.45" lengthAdjust="spacingAndGlyphs">60</text>
<line x1="210.40" y1="605.50" x2="213.50" y2="605.50" stroke="#2b2b2b" stroke-width="1"/>
<text x="199.25" y="608.00" font-size="7.60" fill="#2b2b2b" stroke="#2b2b2b" stroke-width="0.25" textLength="8.45" lengthAdjust="spacingAndGlyphs">80</text>
<line x1="210.40" y1="590.50" x2="213.50" y2="590.50" stroke="#2b2b2b" stroke-width="1"/>
<text x="195.02" y="593.16" font-size="7.60" fill="#2b2b2b" stroke="#2b2b2b" stroke-width="0.25" textLength="12.68" lengthAdjust="spacingAndGlyphs">100</text>
<text x="220.8" y="583.48" font-size="8.00" fill="#2b2b2b" stroke="#2b2b2b" stroke-width="0.25" font-weight="normal" textLength="91.0" lengthAdjust="spacingAndGlyphs">SS08 (CD73<tspan font-size="5" dy="-2.8" stroke-width="0" fill="#555">high</tspan><tspan dy="2.8">) + HPMEC</tspan></text>
<text transform="translate(176.25,655.90) rotate(-90)" x="0" y="0" font-size="9.50" fill="#2b2b2b" stroke="#2b2b2b" stroke-width="0.25" textLength="60.1" lengthAdjust="spacingAndGlyphs">% of proliferating</text>
<text transform="translate(188.04,647.50) rotate(-90)" x="0" y="0" font-size="9.50" fill="#2b2b2b" stroke="#2b2b2b" stroke-width="0.25" textLength="42.8" lengthAdjust="spacingAndGlyphs">CD8<tspan font-size="6" dy="-3">+</tspan><tspan dy="3"> T cells</tspan></text>
<rect x="218.0" y="600.5" width="10.0" height="64.5" fill="#c8102e" />
<rect x="231.3" y="623.0" width="10.0" height="42.0" fill="#0e4a88" />
<rect x="254.3" y="605.0" width="10.2" height="60.0" fill="#c8102e" />
<rect x="267.5" y="617.0" width="10.0" height="48.0" fill="#0e4a88" />
<rect x="290.8" y="598.3" width="10.0" height="66.7" fill="#c8102e" />
<rect x="304.3" y="619.5" width="10.0" height="45.5" fill="#0e4a88" />
<circle cx="223" cy="599.5" r="1.15" fill="#111"/>
<circle cx="236.3" cy="620" r="1.15" fill="#111"/>
<circle cx="259.5" cy="601.5" r="1.15" fill="#111"/>
<circle cx="272.5" cy="616" r="1.15" fill="#111"/>
<circle cx="295.8" cy="597.5" r="1.15" fill="#111"/>
<circle cx="309.3" cy="618.5" r="1.15" fill="#111"/>
<line x1="229.50" y1="665.00" x2="229.50" y2="668.00" stroke="#2b2b2b" stroke-width="1"/>
<line x1="266.50" y1="665.00" x2="266.50" y2="668.00" stroke="#2b2b2b" stroke-width="1"/>
<line x1="302.50" y1="665.00" x2="302.50" y2="668.00" stroke="#2b2b2b" stroke-width="1"/>
<text x="223.90" y="677.97" font-size="8.60" fill="#2b2b2b" stroke="#2b2b2b" stroke-width="0.25" font-weight="normal" textLength="10.99" lengthAdjust="spacingAndGlyphs">No</text>
<text x="212.5" y="687.27" font-size="8.60" fill="#2b2b2b" stroke="#2b2b2b" stroke-width="0.25" font-weight="normal" textLength="33.8" lengthAdjust="spacingAndGlyphs">treatment</text>
<text x="251.3" y="677.97" font-size="8.60" fill="#2b2b2b" stroke="#2b2b2b" stroke-width="0.25" font-weight="normal" textLength="28.0" lengthAdjust="spacingAndGlyphs">CPI-444</text>
<text x="283.8" y="677.97" font-size="8.60" fill="#2b2b2b" stroke="#2b2b2b" stroke-width="0.25" font-weight="normal" textLength="43.7" lengthAdjust="spacingAndGlyphs">Istradefylline</text>
<line x1="381.50" y1="588.50" x2="381.50" y2="666.00" stroke="#2b2b2b" stroke-width="1"/>
<line x1="381.00" y1="665.50" x2="483.80" y2="665.50" stroke="#2b2b2b" stroke-width="1.2"/>
<line x1="378.40" y1="665.50" x2="381.50" y2="665.50" stroke="#2b2b2b" stroke-width="1"/>
<text x="371.57" y="667.36" font-size="7.60" fill="#2b2b2b" stroke="#2b2b2b" stroke-width="0.25" textLength="4.23" lengthAdjust="spacingAndGlyphs">0</text>
<line x1="378.40" y1="650.50" x2="381.50" y2="650.50" stroke="#2b2b2b" stroke-width="1"/>
<text x="367.35" y="652.52" font-size="7.60" fill="#2b2b2b" stroke="#2b2b2b" stroke-width="0.25" textLength="8.45" lengthAdjust="spacingAndGlyphs">20</text>
<line x1="378.40" y1="635.50" x2="381.50" y2="635.50" stroke="#2b2b2b" stroke-width="1"/>
<text x="367.35" y="637.68" font-size="7.60" fill="#2b2b2b" stroke="#2b2b2b" stroke-width="0.25" textLength="8.45" lengthAdjust="spacingAndGlyphs">40</text>
<line x1="378.40" y1="620.50" x2="381.50" y2="620.50" stroke="#2b2b2b" stroke-width="1"/>
<text x="367.35" y="622.84" font-size="7.60" fill="#2b2b2b" stroke="#2b2b2b" stroke-width="0.25" textLength="8.45" lengthAdjust="spacingAndGlyphs">60</text>
<line x1="378.40" y1="605.50" x2="381.50" y2="605.50" stroke="#2b2b2b" stroke-width="1"/>
<text x="367.35" y="608.00" font-size="7.60" fill="#2b2b2b" stroke="#2b2b2b" stroke-width="0.25" textLength="8.45" lengthAdjust="spacingAndGlyphs">80</text>
<line x1="378.40" y1="590.50" x2="381.50" y2="590.50" stroke="#2b2b2b" stroke-width="1"/>
<text x="363.12" y="593.16" font-size="7.60" fill="#2b2b2b" stroke="#2b2b2b" stroke-width="0.25" textLength="12.68" lengthAdjust="spacingAndGlyphs">100</text>
<text x="398.8" y="581.28" font-size="8.00" fill="#2b2b2b" stroke="#2b2b2b" stroke-width="0.25" font-weight="normal" textLength="71.2" lengthAdjust="spacingAndGlyphs">HD (n = 8) + HPMEC</text>
<text transform="translate(345.44,655.90) rotate(-90)" x="0" y="0" font-size="9.50" fill="#2b2b2b" stroke="#2b2b2b" stroke-width="0.25" textLength="60.1" lengthAdjust="spacingAndGlyphs">% of proliferating</text>
<text transform="translate(357.25,647.50) rotate(-90)" x="0" y="0" font-size="9.50" fill="#2b2b2b" stroke="#2b2b2b" stroke-width="0.25" textLength="42.8" lengthAdjust="spacingAndGlyphs">CD8<tspan font-size="6" dy="-3">+</tspan><tspan dy="3"> T cells</tspan></text>
<line x1="391.30" y1="594.50" x2="391.30" y2="600.30" stroke="#c8102e" stroke-width="1"/>
<line x1="389.10" y1="594.90" x2="393.50" y2="594.90" stroke="#c8102e" stroke-width="1"/>
<rect x="386.3" y="599.3" width="10.0" height="65.7" fill="#c8102e" />
<line x1="404.75" y1="615.50" x2="404.75" y2="621.50" stroke="#0e4a88" stroke-width="1"/>
<line x1="402.55" y1="615.90" x2="406.95" y2="615.90" stroke="#0e4a88" stroke-width="1"/>
<rect x="400.0" y="620.5" width="9.5" height="44.5" fill="#0e4a88" />
<line x1="428.00" y1="597.00" x2="428.00" y2="605.50" stroke="#c8102e" stroke-width="1"/>
<line x1="425.80" y1="597.40" x2="430.20" y2="597.40" stroke="#c8102e" stroke-width="1"/>
<rect x="423.0" y="604.5" width="10.0" height="60.5" fill="#c8102e" />
<line x1="441.30" y1="613.00" x2="441.30" y2="618.00" stroke="#0e4a88" stroke-width="1"/>
<line x1="439.10" y1="613.40" x2="443.50" y2="613.40" stroke="#0e4a88" stroke-width="1"/>
<rect x="436.3" y="617.0" width="10.0" height="48.0" fill="#0e4a88" />
<line x1="464.50" y1="594.50" x2="464.50" y2="600.30" stroke="#c8102e" stroke-width="1"/>
<line x1="462.30" y1="594.90" x2="466.70" y2="594.90" stroke="#c8102e" stroke-width="1"/>
<rect x="459.5" y="599.3" width="10.0" height="65.7" fill="#c8102e" />
<line x1="477.50" y1="612.00" x2="477.50" y2="616.80" stroke="#0e4a88" stroke-width="1"/>
<line x1="475.30" y1="612.40" x2="479.70" y2="612.40" stroke="#0e4a88" stroke-width="1"/>
<rect x="472.5" y="615.8" width="10.0" height="49.2" fill="#0e4a88" />
<line x1="398.50" y1="665.00" x2="398.50" y2="668.00" stroke="#2b2b2b" stroke-width="1"/>
<line x1="434.50" y1="665.00" x2="434.50" y2="668.00" stroke="#2b2b2b" stroke-width="1"/>
<line x1="471.50" y1="665.00" x2="471.50" y2="668.00" stroke="#2b2b2b" stroke-width="1"/>
<text x="392.65" y="677.97" font-size="8.60" fill="#2b2b2b" stroke="#2b2b2b" stroke-width="0.25" font-weight="normal" textLength="10.99" lengthAdjust="spacingAndGlyphs">No</text>
<text x="381.3" y="687.27" font-size="8.60" fill="#2b2b2b" stroke="#2b2b2b" stroke-width="0.25" font-weight="normal" textLength="33.7" lengthAdjust="spacingAndGlyphs">treatment</text>
<text x="421.3" y="677.97" font-size="8.60" fill="#2b2b2b" stroke="#2b2b2b" stroke-width="0.25" font-weight="normal" textLength="26.7" lengthAdjust="spacingAndGlyphs">CPI-444</text>
<text x="452.5" y="677.97" font-size="8.60" fill="#2b2b2b" stroke="#2b2b2b" stroke-width="0.25" font-weight="normal" textLength="43.8" lengthAdjust="spacingAndGlyphs">Istradefylline</text>
<line x1="390.50" y1="590.60" x2="405.00" y2="590.60" stroke="#222" stroke-width="0.8"/>
<text x="390.8" y="590.70" font-size="9.00" fill="#2b2b2b" stroke="#2b2b2b" stroke-width="0.25" font-weight="normal" textLength="13.9" lengthAdjust="spacingAndGlyphs">****</text>
<line x1="427.50" y1="590.60" x2="441.30" y2="590.60" stroke="#222" stroke-width="0.8"/>
<text x="427.8" y="590.70" font-size="9.00" fill="#2b2b2b" stroke="#2b2b2b" stroke-width="0.25" font-weight="normal" textLength="13.2" lengthAdjust="spacingAndGlyphs">***</text>
<line x1="463.80" y1="590.60" x2="476.30" y2="590.60" stroke="#222" stroke-width="0.8"/>
<text x="464.1" y="590.70" font-size="9.00" fill="#2b2b2b" stroke="#2b2b2b" stroke-width="0.25" font-weight="normal" textLength="11.9" lengthAdjust="spacingAndGlyphs">****</text>
<rect x="207.7" y="696.6" width="5.6" height="5.4" fill="#c8102e" />
<text x="216.3" y="702.19" font-size="9.00" fill="#2b2b2b" stroke="#2b2b2b" stroke-width="0.25" font-weight="normal" textLength="39.1" lengthAdjust="spacingAndGlyphs">CD3/CD28</text>
<rect x="258.5" y="696.6" width="5.3" height="5.4" fill="#0e4a88" />
<text x="266.8" y="702.19" font-size="9.00" fill="#2b2b2b" stroke="#2b2b2b" stroke-width="0.25" font-weight="normal" textLength="61.5" lengthAdjust="spacingAndGlyphs">CD3/CD28 + ATP</text>
</svg>
</body></html>
